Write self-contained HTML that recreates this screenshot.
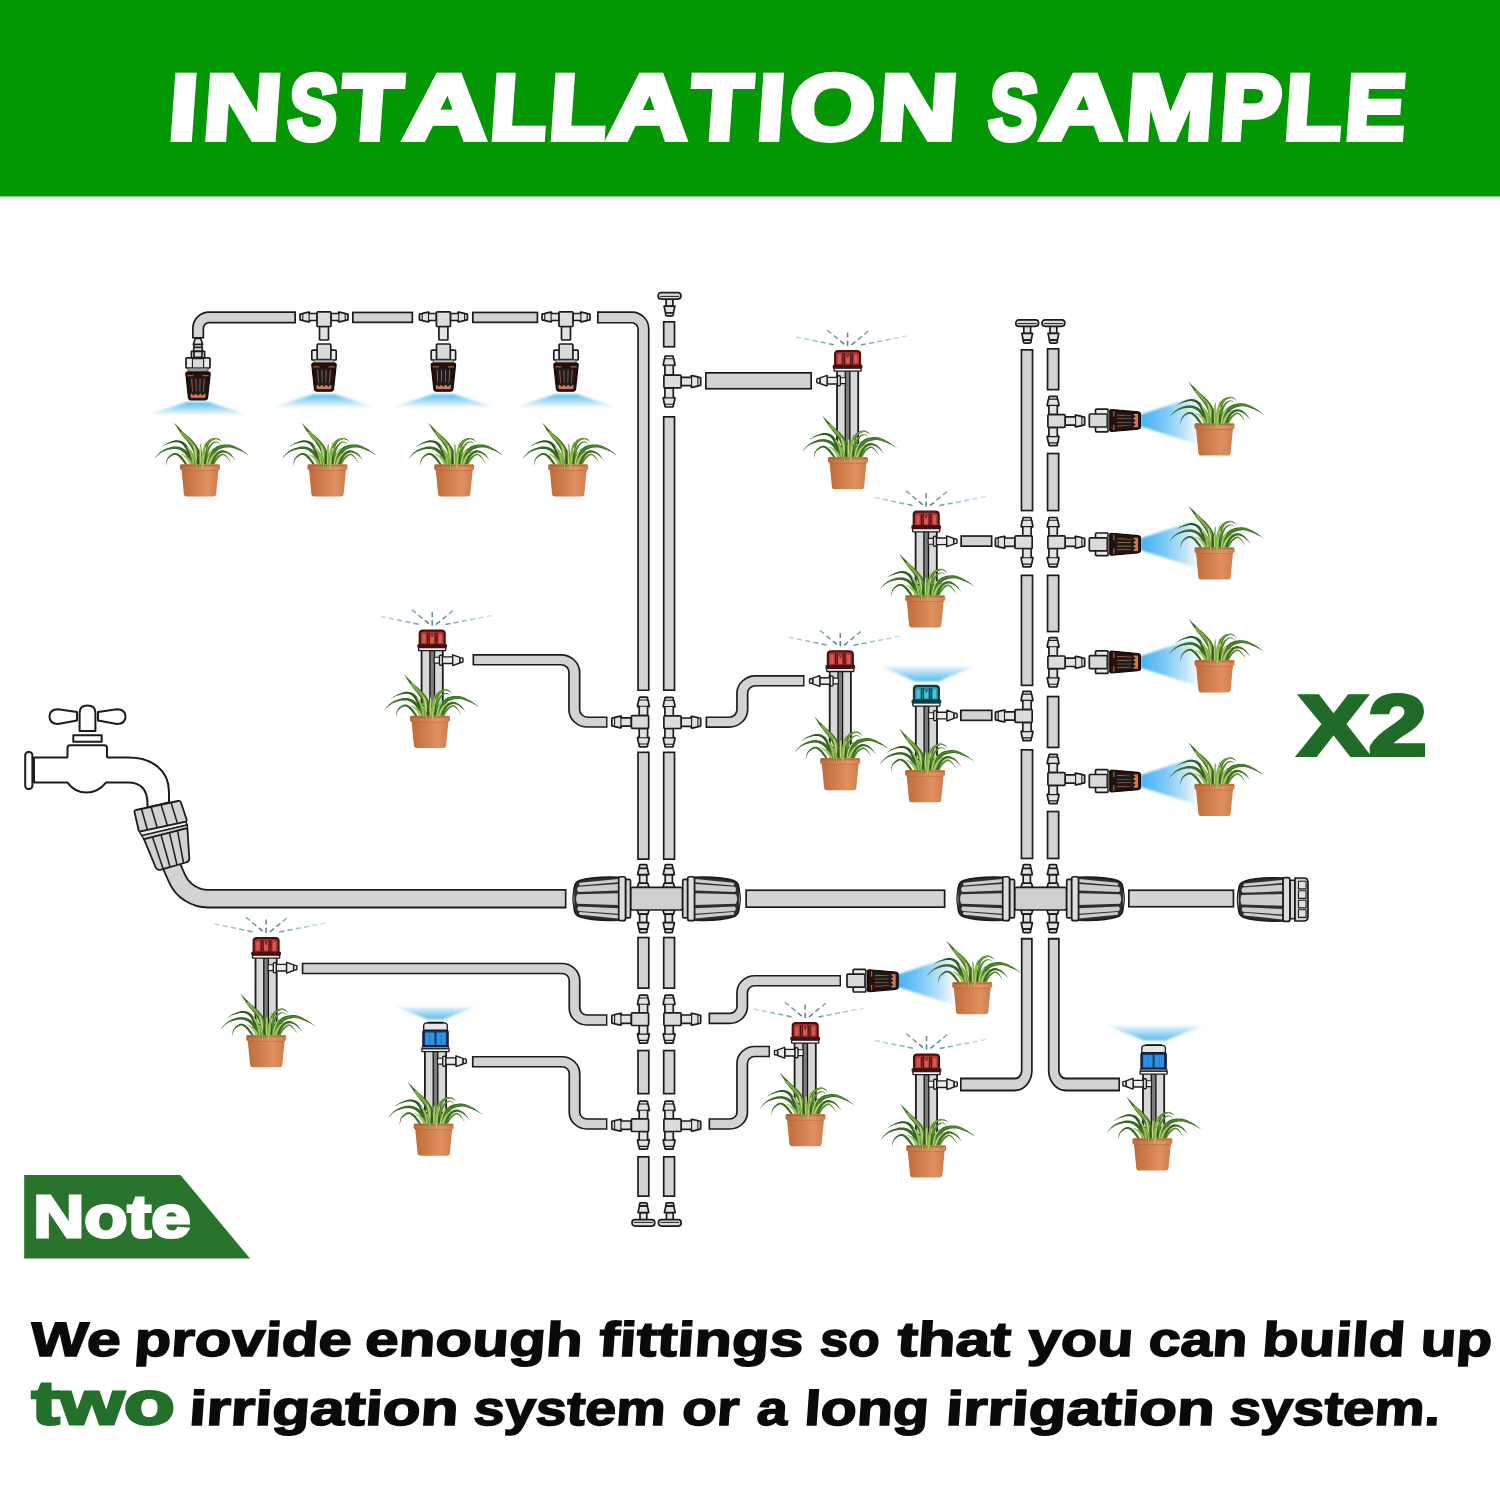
<!DOCTYPE html>
<html><head><meta charset="utf-8"><title>Installation Sample</title><style>html,body{margin:0;padding:0;background:#fff;}body{width:1500px;height:1500px;overflow:hidden;font-family:"Liberation Sans",sans-serif;}</style></head><body>
<svg width="1500" height="1500" viewBox="0 0 1500 1500" style="display:block">
<defs>
<linearGradient id="gDown" x1="0" y1="0" x2="0" y2="1"><stop offset="0" stop-color="#5cbcef"/><stop offset="0.4" stop-color="#9ad8f6"/><stop offset="0.8" stop-color="#dcf1fb"/><stop offset="1" stop-color="#ffffff" stop-opacity="0"/></linearGradient>
<linearGradient id="gUp" x1="0" y1="1" x2="0" y2="0"><stop offset="0" stop-color="#5cbcef"/><stop offset="0.4" stop-color="#95d5f5"/><stop offset="0.8" stop-color="#dcf1fb"/><stop offset="1" stop-color="#ffffff" stop-opacity="0"/></linearGradient>
<linearGradient id="gSide" x1="0" y1="0" x2="1" y2="0"><stop offset="0" stop-color="#45b0f3"/><stop offset="0.4" stop-color="#78c8f6"/><stop offset="0.8" stop-color="#c4e6fa"/><stop offset="1" stop-color="#e8f5fd" stop-opacity="0.6"/></linearGradient>
<radialGradient id="gDash" gradientUnits="userSpaceOnUse" cx="0" cy="-4" r="62"><stop offset="0.1" stop-color="#56808f"/><stop offset="0.45" stop-color="#8fbccd"/><stop offset="1" stop-color="#d3e9f2"/></radialGradient>
<linearGradient id="gPot" x1="0" y1="0" x2="1" y2="0"><stop offset="0" stop-color="#c06d3c"/><stop offset="0.3" stop-color="#cd7a48"/><stop offset="0.7" stop-color="#e0905f"/><stop offset="1" stop-color="#cf7c4b"/></linearGradient>
<linearGradient id="gRim" x1="0" y1="0" x2="1" y2="0"><stop offset="0" stop-color="#bb6a3b"/><stop offset="0.3" stop-color="#cf7d4b"/><stop offset="0.7" stop-color="#e39566"/><stop offset="1" stop-color="#d07f4e"/></linearGradient>
<filter id="b1" x="-10%" y="-20%" width="120%" height="140%"><feGaussianBlur stdDeviation="0.8"/></filter>
<filter id="b0" x="-10%" y="-20%" width="120%" height="140%"><feGaussianBlur stdDeviation="0.35"/></filter>
<filter id="bp" x="-5%" y="-5%" width="110%" height="110%"><feGaussianBlur stdDeviation="0.3"/></filter>
<g id="plant"><path d="M-6.9,0.7 L-7.1,-0.4 L-7.4,-2.0 L-7.7,-3.9 L-8.1,-6.0 L-8.5,-8.1 L-9.0,-10.1 L-9.6,-11.9 L-10.2,-13.5 L-10.9,-15.0 L-11.6,-16.4 L-12.4,-17.8 L-13.3,-19.0 L-14.2,-20.2 L-15.2,-21.2 L-16.3,-22.0 L-17.4,-22.7 L-18.5,-23.2 L-19.7,-23.6 L-20.9,-23.9 L-22.2,-24.1 L-23.5,-24.1 L-24.9,-24.0 L-26.3,-23.6 L-27.8,-23.2 L-29.3,-22.6 L-30.7,-22.1 L-32.0,-21.5 L-33.2,-20.9 L-34.3,-20.4 L-35.3,-19.7 L-36.3,-19.0 L-37.2,-18.4 L-38.0,-17.8 L-38.7,-17.3 L-39.2,-16.9 L-39.2,-16.9 L-38.6,-17.2 L-37.9,-17.6 L-37.1,-18.1 L-36.1,-18.6 L-35.0,-19.2 L-33.9,-19.7 L-32.8,-20.1 L-31.6,-20.5 L-30.3,-20.9 L-28.8,-21.3 L-27.4,-21.7 L-26.0,-21.9 L-24.7,-22.1 L-23.5,-22.1 L-22.4,-22.0 L-21.4,-21.8 L-20.4,-21.5 L-19.5,-21.1 L-18.6,-20.6 L-17.8,-20.0 L-17.0,-19.2 L-16.3,-18.4 L-15.6,-17.4 L-14.9,-16.3 L-14.2,-15.0 L-13.6,-13.7 L-13.0,-12.3 L-12.4,-10.9 L-11.9,-9.3 L-11.3,-7.4 L-10.8,-5.4 L-10.4,-3.4 L-9.9,-1.5 L-9.6,0.1 L-9.3,1.3Z" fill="#2d5a1e"/><path d="M-6.8,0.6 L-7.1,-0.3 L-7.5,-1.5 L-7.9,-2.9 L-8.4,-4.5 L-9.0,-6.2 L-9.7,-7.8 L-10.4,-9.2 L-11.3,-10.4 L-12.1,-11.6 L-13.1,-12.7 L-14.1,-13.8 L-15.2,-14.7 L-16.4,-15.6 L-17.6,-16.3 L-18.9,-16.8 L-20.2,-17.3 L-21.5,-17.6 L-22.9,-17.8 L-24.3,-17.9 L-25.8,-17.8 L-27.2,-17.7 L-28.8,-17.4 L-30.4,-16.9 L-32.1,-16.4 L-33.8,-15.7 L-35.4,-15.0 L-37.0,-14.2 L-38.4,-13.3 L-39.8,-12.3 L-41.1,-11.1 L-42.3,-9.8 L-43.4,-8.5 L-44.4,-7.3 L-45.2,-6.2 L-45.8,-5.5 L-45.8,-5.5 L-45.1,-6.1 L-44.1,-7.1 L-43.0,-8.1 L-41.8,-9.3 L-40.5,-10.4 L-39.1,-11.4 L-37.8,-12.3 L-36.4,-12.9 L-34.8,-13.5 L-33.2,-14.1 L-31.6,-14.5 L-29.9,-14.9 L-28.4,-15.2 L-27.0,-15.3 L-25.7,-15.4 L-24.4,-15.3 L-23.2,-15.2 L-22.1,-15.0 L-21.0,-14.6 L-20.0,-14.2 L-19.0,-13.7 L-18.0,-13.1 L-17.1,-12.4 L-16.2,-11.6 L-15.3,-10.7 L-14.5,-9.7 L-13.7,-8.7 L-13.0,-7.6 L-12.3,-6.5 L-11.6,-5.1 L-11.0,-3.6 L-10.4,-2.1 L-9.9,-0.7 L-9.5,0.5 L-9.2,1.4Z" fill="#3a6b23"/><path d="M-12.2,0.4 L-12.8,-0.4 L-13.6,-1.6 L-14.6,-3.1 L-15.7,-4.6 L-16.8,-6.1 L-17.9,-7.5 L-19.0,-8.5 L-20.0,-9.3 L-20.9,-10.0 L-21.8,-10.6 L-22.8,-11.0 L-23.8,-11.3 L-24.8,-11.3 L-25.9,-11.2 L-27.0,-10.9 L-28.1,-10.3 L-29.2,-9.5 L-30.2,-8.7 L-31.2,-7.7 L-32.0,-6.8 L-32.7,-5.8 L-33.2,-4.7 L-33.6,-3.5 L-33.8,-2.2 L-33.9,-1.0 L-34.0,0.2 L-34.0,1.1 L-34.1,1.8 L-34.1,1.8 L-33.9,1.1 L-33.7,0.2 L-33.5,-0.9 L-33.2,-2.1 L-32.9,-3.3 L-32.4,-4.3 L-31.9,-5.2 L-31.2,-6.0 L-30.3,-6.8 L-29.3,-7.6 L-28.3,-8.2 L-27.3,-8.8 L-26.3,-9.2 L-25.5,-9.4 L-24.8,-9.4 L-24.2,-9.3 L-23.5,-9.1 L-22.9,-8.7 L-22.2,-8.2 L-21.4,-7.6 L-20.6,-6.9 L-19.7,-5.9 L-18.6,-4.7 L-17.5,-3.3 L-16.4,-1.8 L-15.3,-0.4 L-14.4,0.7 L-13.8,1.6Z" fill="#3a6b23"/><path d="M5.2,1.1 L5.4,-0.3 L5.6,-2.4 L5.8,-4.7 L6.0,-7.3 L6.3,-9.8 L6.6,-12.0 L6.9,-13.9 L7.2,-15.5 L7.6,-16.9 L8.1,-18.2 L8.6,-19.4 L9.1,-20.4 L9.7,-21.4 L10.4,-22.2 L11.1,-22.9 L11.9,-23.5 L12.9,-24.0 L13.9,-24.5 L14.9,-24.8 L15.8,-25.0 L16.7,-25.0 L17.6,-24.9 L18.5,-24.6 L19.5,-24.1 L20.5,-23.5 L21.4,-22.8 L22.1,-22.3 L22.7,-22.0 L22.7,-22.0 L22.2,-22.4 L21.6,-23.1 L20.8,-23.9 L20.0,-24.7 L19.0,-25.4 L18.0,-26.0 L16.9,-26.4 L15.8,-26.5 L14.6,-26.4 L13.4,-26.3 L12.1,-25.9 L10.9,-25.5 L9.7,-24.8 L8.6,-24.0 L7.7,-23.1 L6.8,-22.0 L5.9,-20.8 L5.2,-19.5 L4.5,-18.0 L3.9,-16.4 L3.3,-14.7 L2.9,-12.6 L2.6,-10.2 L2.4,-7.5 L2.3,-4.9 L2.2,-2.5 L2.2,-0.5 L2.2,0.9Z" fill="#3a6b23"/><path d="M3.7,1.0 L3.8,-0.4 L3.9,-2.4 L4.0,-4.8 L4.2,-7.4 L4.4,-10.0 L4.7,-12.3 L5.1,-14.3 L5.5,-16.0 L6.1,-17.5 L6.6,-18.9 L7.3,-20.1 L7.9,-21.2 L8.7,-22.2 L9.5,-23.1 L10.4,-23.9 L11.4,-24.5 L12.5,-25.0 L13.6,-25.4 L14.7,-25.6 L15.8,-25.7 L16.8,-25.7 L17.8,-25.5" fill="none" stroke="#7dae3e" stroke-width="1.05" stroke-linecap="round"/><path d="M6.1,1.2 L6.3,-0.2 L6.7,-2.0 L7.0,-4.2 L7.5,-6.5 L7.9,-8.8 L8.3,-10.9 L8.7,-12.6 L9.1,-14.0 L9.6,-15.3 L10.2,-16.4 L10.7,-17.5 L11.3,-18.4 L11.9,-19.2 L12.5,-19.9 L13.1,-20.5 L13.7,-21.0 L14.4,-21.3 L15.0,-21.6 L15.7,-21.8 L16.3,-21.9 L16.9,-21.9 L17.5,-21.8 L18.2,-21.5 L18.9,-21.1 L19.6,-20.6 L20.3,-20.2 L20.8,-19.8 L21.2,-19.5 L21.2,-19.5 L20.9,-19.8 L20.4,-20.3 L19.8,-20.9 L19.2,-21.5 L18.5,-22.0 L17.8,-22.5 L17.1,-22.7 L16.3,-22.8 L15.5,-22.8 L14.7,-22.7 L13.9,-22.5 L13.1,-22.2 L12.3,-21.7 L11.5,-21.1 L10.7,-20.4 L9.9,-19.5 L9.1,-18.6 L8.4,-17.5 L7.6,-16.3 L6.9,-14.9 L6.3,-13.4 L5.8,-11.5 L5.2,-9.3 L4.8,-6.9 L4.5,-4.6 L4.3,-2.3 L4.1,-0.5 L3.9,0.8Z" fill="#4f8a2c"/><path d="M11.0,1.4 L11.3,0.3 L11.7,-1.1 L12.1,-2.8 L12.5,-4.5 L13.0,-6.3 L13.6,-7.8 L14.1,-9.1 L14.7,-10.2 L15.4,-11.2 L16.0,-12.1 L16.7,-12.9 L17.4,-13.6 L18.2,-14.2 L19.1,-14.8 L20.2,-15.3 L21.6,-15.8 L23.0,-16.2 L24.5,-16.5 L26.1,-16.8 L27.7,-16.9 L29.1,-16.9 L30.6,-16.7 L32.1,-16.4 L33.7,-16.0 L35.3,-15.4 L36.9,-14.8 L38.5,-14.2 L40.0,-13.6 L41.4,-13.0 L43.0,-12.2 L44.5,-11.4 L45.9,-10.6 L47.2,-9.9 L48.3,-9.2 L49.1,-8.8 L49.1,-8.8 L48.4,-9.4 L47.4,-10.2 L46.2,-11.1 L44.9,-12.1 L43.5,-13.1 L42.1,-14.1 L40.6,-15.0 L39.2,-15.8 L37.7,-16.6 L36.2,-17.4 L34.5,-18.2 L32.9,-18.8 L31.2,-19.4 L29.5,-19.7 L27.7,-19.9 L25.9,-19.9 L24.1,-19.8 L22.3,-19.6 L20.6,-19.3 L19.0,-18.8 L17.5,-18.2 L16.1,-17.5 L14.9,-16.6 L13.8,-15.6 L12.9,-14.5 L12.1,-13.3 L11.3,-12.1 L10.7,-10.7 L10.0,-9.1 L9.5,-7.3 L9.1,-5.4 L8.7,-3.5 L8.4,-1.8 L8.1,-0.4 L8.0,0.6Z" fill="#3a6b23"/><path d="M9.5,1.0 L9.7,-0.0 L10.0,-1.4 L10.4,-3.1 L10.8,-5.0 L11.3,-6.8 L11.8,-8.5 L12.4,-9.9 L13.0,-11.1 L13.7,-12.2 L14.5,-13.3 L15.3,-14.2 L16.2,-15.1 L17.2,-15.8 L18.3,-16.5 L19.6,-17.1 L21.1,-17.5 L22.7,-17.9 L24.3,-18.2 L26.0,-18.3 L27.7,-18.4 L29.3,-18.3 L30.9,-18.0 L32.5,-17.6 L34.1,-17.1 L35.7,-16.4 L37.3,-15.7 L38.8,-15.0" fill="none" stroke="#4f8a2c" stroke-width="1.32" stroke-linecap="round"/><path d="M12.8,1.4 L13.1,0.5 L13.6,-0.8 L14.1,-2.2 L14.7,-3.8 L15.3,-5.3 L15.9,-6.6 L16.6,-7.6 L17.2,-8.4 L18.0,-9.2 L18.8,-9.9 L19.6,-10.5 L20.5,-11.0 L21.4,-11.4 L22.2,-11.6 L23.0,-11.7 L23.9,-11.7 L24.9,-11.6 L25.8,-11.3 L26.9,-11.0 L27.9,-10.5 L28.9,-10.0 L29.9,-9.3 L31.0,-8.4 L32.2,-7.3 L33.3,-6.2 L34.4,-5.2 L35.2,-4.3 L35.9,-3.7 L35.9,-3.7 L35.4,-4.4 L34.7,-5.4 L33.8,-6.6 L32.8,-7.9 L31.8,-9.2 L30.8,-10.3 L29.7,-11.2 L28.7,-11.9 L27.6,-12.6 L26.5,-13.1 L25.4,-13.6 L24.2,-13.9 L23.0,-14.0 L21.8,-14.0 L20.6,-13.7 L19.5,-13.3 L18.3,-12.8 L17.2,-12.1 L16.1,-11.3 L15.1,-10.3 L14.2,-9.2 L13.4,-7.9 L12.7,-6.3 L12.1,-4.7 L11.6,-3.0 L11.2,-1.5 L10.9,-0.3 L10.6,0.6Z" fill="#3a6b23"/><path d="M13.7,1.4 L14.1,0.7 L14.6,-0.2 L15.1,-1.3 L15.8,-2.4 L16.4,-3.5 L17.1,-4.5 L17.8,-5.4 L18.4,-6.1 L19.2,-6.8 L20.0,-7.5 L20.7,-8.1 L21.5,-8.6 L22.2,-9.0 L22.8,-9.1 L23.3,-9.1 L23.8,-9.0 L24.3,-8.7 L24.9,-8.3 L25.5,-7.8 L26.1,-7.3 L26.7,-6.7 L27.4,-6.0 L28.1,-5.2 L28.8,-4.2 L29.5,-3.3 L30.2,-2.4 L30.7,-1.6 L31.1,-1.1 L31.1,-1.1 L30.8,-1.7 L30.4,-2.5 L29.9,-3.5 L29.3,-4.5 L28.7,-5.6 L28.1,-6.5 L27.5,-7.3 L26.9,-8.0 L26.3,-8.7 L25.7,-9.3 L25.1,-9.8 L24.4,-10.3 L23.5,-10.6 L22.6,-10.7 L21.7,-10.5 L20.7,-10.1 L19.8,-9.6 L18.8,-9.0 L17.9,-8.2 L17.0,-7.5 L16.2,-6.6 L15.5,-5.7 L14.8,-4.5 L14.1,-3.3 L13.5,-2.1 L13.0,-1.0 L12.6,-0.0 L12.3,0.6Z" fill="#4f8a2c"/><path d="M0.9,1.7 L0.8,0.3 L0.7,-1.6 L0.6,-3.9 L0.4,-6.4 L0.1,-9.0 L-0.3,-11.5 L-0.8,-13.7 L-1.6,-15.6 L-2.5,-17.3 L-3.5,-18.8 L-4.5,-20.2 L-5.5,-21.5 L-6.5,-22.7 L-7.6,-23.9 L-8.7,-25.1 L-9.8,-26.2 L-11.0,-27.3 L-12.1,-28.3 L-13.3,-29.3 L-14.5,-30.3 L-15.7,-31.4 L-17.1,-32.8 L-18.7,-34.4 L-20.5,-36.1 L-22.1,-37.7 L-23.7,-39.2 L-25.0,-40.5 L-26.0,-41.4 L-26.0,-41.4 L-25.3,-40.3 L-24.3,-38.7 L-23.1,-36.9 L-21.9,-34.9 L-20.5,-32.9 L-19.3,-31.0 L-18.1,-29.4 L-17.0,-27.9 L-16.0,-26.6 L-14.9,-25.4 L-14.0,-24.3 L-13.1,-23.2 L-12.2,-22.1 L-11.4,-20.9 L-10.6,-19.6 L-9.7,-18.4 L-8.9,-17.1 L-8.2,-15.9 L-7.6,-14.6 L-7.0,-13.3 L-6.6,-11.9 L-6.1,-10.2 L-5.6,-8.1 L-5.2,-5.7 L-4.8,-3.3 L-4.4,-1.0 L-4.1,0.9 L-3.9,2.3Z" fill="#3a6b23"/><path d="M-1.5,2.0 L-1.7,0.6 L-1.9,-1.3 L-2.1,-3.6 L-2.4,-6.0 L-2.7,-8.5 L-3.2,-10.8 L-3.7,-12.8 L-4.3,-14.5 L-5.0,-16.0 L-5.8,-17.4 L-6.7,-18.7 L-7.6,-19.9 L-8.6,-21.2 L-9.5,-22.4 L-10.5,-23.6 L-11.4,-24.7 L-12.5,-25.8 L-13.5,-26.8 L-14.6,-27.9 L-15.7,-29.1 L-16.9,-30.4 L-18.2,-31.9" fill="none" stroke="#7dae3e" stroke-width="2.51" stroke-linecap="round"/><path d="M-4.5,2.8 L-4.6,1.7 L-4.7,0.3 L-4.9,-1.4 L-5.1,-3.3 L-5.4,-5.2 L-5.9,-6.9 L-6.4,-8.4 L-6.9,-9.7 L-7.4,-10.9 L-7.9,-11.9 L-8.4,-12.9 L-9.0,-13.8 L-9.6,-14.6 L-10.2,-15.5 L-10.9,-16.3 L-11.7,-17.1 L-12.5,-17.9 L-13.2,-18.5 L-14.0,-19.1 L-14.6,-19.6 L-15.0,-20.0 L-15.0,-20.0 L-14.7,-19.5 L-14.3,-18.9 L-13.8,-18.1 L-13.2,-17.2 L-12.7,-16.3 L-12.2,-15.4 L-11.8,-14.5 L-11.4,-13.6 L-11.1,-12.7 L-10.7,-11.8 L-10.4,-10.9 L-10.1,-9.8 L-9.9,-8.7 L-9.6,-7.6 L-9.4,-6.2 L-9.2,-4.5 L-8.8,-2.7 L-8.4,-0.9 L-8.1,0.8 L-7.7,2.2 L-7.5,3.2Z" fill="#4f8a2c"/><path d="M-6.0,3.0 L-6.2,2.0 L-6.4,0.5 L-6.7,-1.2 L-7.0,-3.0 L-7.3,-4.8 L-7.6,-6.5 L-8.0,-8.0 L-8.4,-9.2 L-8.8,-10.3 L-9.2,-11.4 L-9.6,-12.3 L-10.0,-13.3 L-10.5,-14.1 L-11.0,-15.0 L-11.6,-15.9 L-12.2,-16.7" fill="none" stroke="#c3d58a" stroke-width="1.26" stroke-linecap="round"/><path d="M-1.3,2.9 L-1.3,1.7 L-1.3,0.2 L-1.4,-1.7 L-1.4,-3.7 L-1.6,-5.8 L-1.9,-7.6 L-2.2,-9.2 L-2.5,-10.5 L-2.8,-11.7 L-3.1,-12.7 L-3.4,-13.6 L-3.7,-14.5 L-4.0,-15.4 L-4.4,-16.3 L-4.9,-17.4 L-5.5,-18.5 L-6.0,-19.6 L-6.6,-20.6 L-7.2,-21.6 L-7.7,-22.4 L-8.0,-23.0 L-8.0,-23.0 L-7.9,-22.3 L-7.7,-21.4 L-7.5,-20.3 L-7.2,-19.2 L-7.0,-17.9 L-6.7,-16.8 L-6.6,-15.7 L-6.4,-14.7 L-6.3,-13.8 L-6.2,-12.9 L-6.1,-12.0 L-6.0,-11.1 L-5.9,-10.0 L-5.8,-8.8 L-5.8,-7.2 L-5.7,-5.4 L-5.5,-3.4 L-5.3,-1.4 L-5.0,0.4 L-4.8,2.0 L-4.7,3.1Z" fill="#7dae3e"/><path d="M-3.0,3.0 L-3.1,1.9 L-3.2,0.3 L-3.3,-1.6 L-3.5,-3.6 L-3.6,-5.6 L-3.8,-7.4 L-4.0,-9.0 L-4.2,-10.3 L-4.4,-11.4 L-4.6,-12.3 L-4.8,-13.3 L-5.0,-14.1 L-5.2,-15.0 L-5.5,-16.0 L-5.8,-17.1 L-6.2,-18.2" fill="none" stroke="#c3d58a" stroke-width="1.38" stroke-linecap="round"/><path d="M1.6,3.0 L1.7,2.0 L1.8,0.6 L2.0,-1.1 L2.1,-2.9 L2.2,-4.8 L2.1,-6.5 L2.1,-7.9 L2.0,-9.1 L1.9,-10.2 L1.9,-11.2 L1.8,-12.2 L1.8,-13.1 L1.7,-14.0 L1.6,-15.0 L1.5,-16.0 L1.4,-17.1 L1.2,-18.2 L1.1,-19.2 L0.9,-20.1 L0.8,-20.9 L0.7,-21.5 L0.7,-21.5 L0.6,-20.9 L0.4,-20.1 L0.3,-19.2 L0.1,-18.2 L-0.1,-17.1 L-0.2,-16.0 L-0.4,-15.0 L-0.6,-14.1 L-0.7,-13.2 L-0.9,-12.3 L-1.0,-11.4 L-1.2,-10.4 L-1.3,-9.3 L-1.5,-8.1 L-1.6,-6.6 L-1.8,-4.9 L-1.8,-3.0 L-1.8,-1.2 L-1.7,0.5 L-1.6,1.9 L-1.6,3.0Z" fill="#4f8a2c"/><path d="M0.0,3.0 L0.0,2.0 L0.1,0.5 L0.1,-1.2 L0.2,-3.0 L0.2,-4.8 L0.3,-6.5 L0.3,-8.0 L0.3,-9.2 L0.4,-10.3 L0.4,-11.3 L0.5,-12.2 L0.5,-13.2 L0.6,-14.1 L0.6,-15.0 L0.6,-16.0 L0.6,-17.1" fill="none" stroke="#c3d58a" stroke-width="1.32" stroke-linecap="round"/><path d="M4.6,3.1 L4.8,2.1 L5.0,0.7 L5.2,-1.0 L5.5,-2.9 L5.6,-4.7 L5.7,-6.4 L5.7,-7.8 L5.7,-8.9 L5.8,-9.8 L5.9,-10.6 L5.9,-11.4 L6.0,-12.2 L6.1,-12.9 L6.2,-13.8 L6.2,-14.7 L6.3,-15.7 L6.4,-16.8 L6.4,-17.8 L6.5,-18.7 L6.5,-19.4 L6.5,-20.0 L6.5,-20.0 L6.3,-19.5 L6.0,-18.8 L5.6,-17.9 L5.3,-17.0 L4.9,-16.0 L4.5,-15.1 L4.2,-14.2 L3.9,-13.4 L3.7,-12.7 L3.4,-12.0 L3.1,-11.2 L2.9,-10.4 L2.6,-9.4 L2.3,-8.2 L2.0,-6.8 L1.7,-5.1 L1.5,-3.2 L1.5,-1.4 L1.4,0.4 L1.4,1.8 L1.4,2.9Z" fill="#7dae3e"/><path d="M3.0,3.0 L3.1,2.0 L3.2,0.5 L3.3,-1.2 L3.5,-3.1 L3.7,-4.9 L3.8,-6.6 L4.0,-8.0 L4.2,-9.1 L4.3,-10.1 L4.5,-10.9 L4.7,-11.7 L4.8,-12.4 L5.0,-13.2 L5.2,-14.0 L5.4,-14.9 L5.6,-15.9" fill="none" stroke="#c3d58a" stroke-width="1.32" stroke-linecap="round"/><path d="M7.4,3.3 L7.7,2.5 L8.0,1.3 L8.4,-0.0 L8.7,-1.5 L9.1,-3.0 L9.3,-4.4 L9.6,-5.5 L9.8,-6.5 L10.0,-7.5 L10.2,-8.4 L10.5,-9.2 L10.7,-10.0 L11.0,-10.8 L11.3,-11.5 L11.6,-12.3 L12.1,-13.1 L12.5,-14.0 L13.0,-14.7 L13.4,-15.4 L13.7,-16.0 L14.0,-16.5 L14.0,-16.5 L13.6,-16.2 L13.1,-15.7 L12.4,-15.2 L11.7,-14.6 L11.0,-13.9 L10.3,-13.2 L9.7,-12.5 L9.2,-11.7 L8.7,-11.0 L8.2,-10.2 L7.7,-9.4 L7.3,-8.5 L6.9,-7.5 L6.4,-6.5 L6.0,-5.2 L5.6,-3.8 L5.3,-2.3 L5.0,-0.7 L4.8,0.7 L4.7,1.9 L4.6,2.7Z" fill="#4f8a2c"/><path d="M6.0,3.0 L6.2,2.2 L6.4,1.0 L6.7,-0.4 L7.0,-1.9 L7.3,-3.4 L7.7,-4.8 L8.0,-6.0 L8.3,-7.0 L8.6,-8.0 L9.0,-8.9 L9.3,-9.7 L9.7,-10.5 L10.1,-11.2 L10.5,-12.0 L11.0,-12.8 L11.5,-13.5" fill="none" stroke="#c3d58a" stroke-width="1.20" stroke-linecap="round"/><path d="M-6.9,2.6 L-7.1,1.9 L-7.4,1.0 L-7.8,-0.2 L-8.2,-1.4 L-8.7,-2.6 L-9.2,-3.7 L-9.9,-4.7 L-10.5,-5.5 L-11.1,-6.2 L-11.8,-6.8 L-12.5,-7.3 L-13.1,-7.8 L-13.8,-8.2 L-14.5,-8.7 L-15.3,-9.1 L-16.2,-9.4 L-17.1,-9.7 L-18.0,-10.0 L-18.8,-10.2 L-19.5,-10.4 L-20.0,-10.5 L-20.0,-10.5 L-19.6,-10.2 L-19.0,-9.8 L-18.3,-9.4 L-17.5,-8.9 L-16.8,-8.4 L-16.1,-7.9 L-15.5,-7.3 L-14.9,-6.8 L-14.4,-6.3 L-13.9,-5.8 L-13.4,-5.2 L-13.0,-4.6 L-12.5,-4.0 L-12.1,-3.3 L-11.7,-2.5 L-11.3,-1.4 L-10.8,-0.3 L-10.3,0.8 L-9.8,1.9 L-9.4,2.8 L-9.1,3.4Z" fill="#7dae3e"/><path d="M-8.0,3.0 L-8.3,2.3 L-8.6,1.4 L-9.0,0.3 L-9.5,-0.8 L-10.0,-2.0 L-10.5,-3.1 L-11.0,-4.0 L-11.5,-4.7 L-12.0,-5.4 L-12.6,-6.0 L-13.2,-6.5 L-13.8,-7.1 L-14.4,-7.5 L-15.0,-8.0 L-15.7,-8.5 L-16.5,-8.9" fill="none" stroke="#c3d58a" stroke-width="0.96" stroke-linecap="round"/><path d="M-0.6,2.9 L-0.6,2.1 L-0.6,0.9 L-0.6,-0.5 L-0.6,-2.0 L-0.7,-3.5 L-0.9,-4.9 L-1.0,-6.0 L-1.1,-7.0 L-1.2,-7.8 L-1.3,-8.5 L-1.4,-9.2 L-1.5,-9.8 L-1.6,-10.4 L-1.7,-11.0 L-1.8,-11.7 L-1.9,-12.3 L-2.0,-13.0 L-2.1,-13.6 L-2.2,-14.2 L-2.3,-14.6 L-2.4,-15.0 L-2.4,-15.0 L-2.4,-14.6 L-2.5,-14.2 L-2.5,-13.6 L-2.6,-13.0 L-2.6,-12.3 L-2.7,-11.6 L-2.7,-11.0 L-2.8,-10.4 L-2.8,-9.7 L-2.8,-9.1 L-2.9,-8.4 L-2.9,-7.7 L-2.9,-6.9 L-3.0,-6.0 L-3.0,-4.8 L-3.0,-3.4 L-3.0,-1.9 L-2.8,-0.4 L-2.7,1.0 L-2.5,2.2 L-2.4,3.1Z" fill="#2d5a1e"/><path d="M9.2,3.4 L9.5,2.7 L9.9,1.7 L10.4,0.4 L10.9,-0.8 L11.5,-2.1 L11.9,-3.4 L12.3,-4.4 L12.6,-5.3 L13.0,-6.1 L13.4,-6.8 L13.8,-7.5 L14.2,-8.2 L14.6,-8.8 L15.1,-9.4 L15.6,-10.0 L16.2,-10.6 L16.8,-11.2 L17.5,-11.8 L18.1,-12.3 L18.6,-12.7 L19.0,-13.0 L19.0,-13.0 L18.5,-12.8 L17.9,-12.6 L17.2,-12.3 L16.4,-12.0 L15.5,-11.6 L14.7,-11.1 L13.9,-10.6 L13.3,-10.0 L12.7,-9.4 L12.0,-8.8 L11.5,-8.1 L10.9,-7.3 L10.3,-6.5 L9.7,-5.6 L9.2,-4.5 L8.6,-3.3 L8.1,-1.9 L7.7,-0.5 L7.3,0.8 L7.1,1.8 L6.8,2.6Z" fill="#7dae3e"/><path d="M8.0,3.0 L8.3,2.3 L8.6,1.2 L9.0,-0.0 L9.5,-1.4 L10.0,-2.7 L10.5,-3.9 L11.0,-5.0 L11.5,-5.9 L11.9,-6.7 L12.4,-7.5 L12.9,-8.2 L13.4,-8.8 L13.9,-9.4 L14.5,-10.0 L15.1,-10.6 L15.8,-11.1" fill="none" stroke="#c3d58a" stroke-width="1.02" stroke-linecap="round"/><path d="M-3.4,2.8 L-3.6,1.8 L-3.8,0.5 L-4.1,-1.1 L-4.5,-2.8 L-4.9,-4.5 L-5.4,-6.0 L-5.9,-7.4 L-6.4,-8.5 L-6.9,-9.5 L-7.5,-10.4 L-8.0,-11.2 L-8.5,-12.0 L-9.0,-12.7 L-9.6,-13.3 L-10.1,-13.9 L-10.7,-14.4 L-11.3,-14.9 L-11.8,-15.2 L-12.3,-15.5 L-12.7,-15.8 L-13.0,-16.0 L-13.0,-16.0 L-12.8,-15.7 L-12.4,-15.4 L-12.1,-14.9 L-11.6,-14.5 L-11.2,-13.9 L-10.8,-13.3 L-10.4,-12.7 L-10.1,-12.0 L-9.7,-11.3 L-9.4,-10.5 L-9.0,-9.6 L-8.7,-8.7 L-8.4,-7.7 L-8.1,-6.6 L-7.8,-5.4 L-7.5,-3.8 L-7.1,-2.2 L-6.6,-0.5 L-6.2,1.0 L-5.8,2.3 L-5.6,3.2Z" fill="#93bb4c"/><path d="M3.1,3.1 L3.3,2.0 L3.5,0.4 L3.7,-1.5 L3.9,-3.5 L4.1,-5.5 L4.2,-7.3 L4.3,-8.9 L4.3,-10.1 L4.4,-11.2 L4.5,-12.2 L4.5,-13.0 L4.6,-13.9 L4.7,-14.8 L4.8,-15.8 L5.0,-17.0 L5.1,-18.3 L5.3,-19.7 L5.6,-21.0 L5.7,-22.2 L5.9,-23.2 L6.0,-24.0 L6.0,-24.0 L5.7,-23.3 L5.3,-22.3 L4.9,-21.2 L4.4,-19.9 L4.0,-18.6 L3.5,-17.3 L3.2,-16.2 L2.9,-15.2 L2.7,-14.2 L2.5,-13.3 L2.3,-12.4 L2.1,-11.5 L1.9,-10.4 L1.7,-9.1 L1.5,-7.6 L1.2,-5.7 L1.1,-3.7 L1.0,-1.7 L0.9,0.2 L0.9,1.8 L0.9,2.9Z" fill="#8ab545"/><path d="M5.6,3.0 L5.7,2.3 L5.8,1.3 L5.9,0.0 L6.0,-1.3 L6.1,-2.7 L6.1,-3.9 L6.1,-5.0 L6.0,-5.8 L6.0,-6.6 L6.0,-7.4 L6.0,-8.1 L5.9,-8.7 L5.9,-9.3 L5.9,-10.0 L5.8,-10.7 L5.7,-11.3 L5.7,-12.0 L5.6,-12.6 L5.5,-13.2 L5.4,-13.6 L5.4,-14.0 L5.4,-14.0 L5.4,-13.6 L5.3,-13.2 L5.2,-12.6 L5.2,-12.0 L5.1,-11.3 L5.0,-10.7 L4.9,-10.0 L4.9,-9.4 L4.8,-8.8 L4.7,-8.1 L4.6,-7.4 L4.5,-6.7 L4.4,-5.9 L4.3,-5.0 L4.2,-4.0 L4.1,-2.7 L4.0,-1.4 L4.0,-0.1 L4.0,1.2 L4.0,2.2 L4.0,3.0Z" fill="#2d5a1e"/><path d="M-18.8,2 L-16.1,30 Q-15.9,32.3 -13.5,32.3 H13.5 Q15.9,32.3 16.1,30 L18.8,2 Z" fill="url(#gPot)"/><rect x="-20" y="0" width="40" height="5.8" rx="1.4" fill="url(#gRim)"/><path d="M-18.6,1.3 H18.6" stroke="#9c5a35" stroke-width="1.8" opacity="0.55"/><path d="M-18.4,6.3 H18.4" stroke="#b5673a" stroke-width="0.9" opacity="0.6"/><path d="M-2.4,3.9 L-2.5,3.2 L-2.5,2.3 L-2.6,1.2 L-2.7,0.0 L-2.8,-1.1 L-3.0,-2.3 L-3.3,-3.2 L-3.5,-4.1 L-3.8,-4.9 L-4.1,-5.6 L-4.4,-6.3 L-4.7,-7.0 L-5.0,-7.6 L-5.4,-8.3 L-5.7,-8.9 L-6.2,-9.5 L-6.6,-10.2 L-7.0,-10.7 L-7.4,-11.3 L-7.8,-11.7 L-8.0,-12.0 L-8.0,-12.0 L-7.9,-11.6 L-7.7,-11.1 L-7.5,-10.5 L-7.3,-9.8 L-7.0,-9.1 L-6.8,-8.4 L-6.6,-7.7 L-6.5,-7.1 L-6.3,-6.4 L-6.2,-5.7 L-6.1,-5.0 L-5.9,-4.3 L-5.8,-3.6 L-5.7,-2.8 L-5.6,-1.8 L-5.5,-0.7 L-5.3,0.4 L-5.1,1.5 L-4.9,2.6 L-4.7,3.5 L-4.6,4.1Z" fill="#4f8a2c"/><path d="M-3.5,4.0 L-3.6,3.3 L-3.7,2.5 L-3.8,1.4 L-4.0,0.2 L-4.1,-0.9 L-4.3,-2.0 L-4.5,-3.0 L-4.7,-3.8 L-4.9,-4.6 L-5.1,-5.3 L-5.3,-6.0 L-5.5,-6.7 L-5.8,-7.4 L-6.0,-8.0 L-6.3,-8.7 L-6.6,-9.3" fill="none" stroke="#c3d58a" stroke-width="0.90" stroke-linecap="round"/><path d="M3.6,4.1 L3.7,3.4 L3.8,2.5 L3.9,1.5 L4.1,0.3 L4.2,-0.8 L4.2,-1.9 L4.2,-2.9 L4.3,-3.7 L4.3,-4.4 L4.3,-5.1 L4.4,-5.8 L4.4,-6.5 L4.5,-7.1 L4.5,-7.8 L4.6,-8.6 L4.7,-9.4 L4.8,-10.3 L4.8,-11.1 L4.9,-11.9 L5.0,-12.5 L5.0,-13.0 L5.0,-13.0 L4.8,-12.6 L4.6,-12.0 L4.3,-11.3 L3.9,-10.5 L3.6,-9.7 L3.3,-8.9 L3.1,-8.2 L2.8,-7.5 L2.6,-6.8 L2.4,-6.1 L2.3,-5.4 L2.1,-4.7 L1.9,-4.0 L1.8,-3.1 L1.6,-2.2 L1.5,-1.0 L1.4,0.1 L1.4,1.3 L1.4,2.4 L1.4,3.3 L1.4,3.9Z" fill="#7dae3e"/><path d="M2.5,4.0 L2.5,3.3 L2.6,2.5 L2.7,1.4 L2.7,0.2 L2.8,-0.9 L2.9,-2.0 L3.0,-3.0 L3.1,-3.8 L3.2,-4.6 L3.3,-5.3 L3.4,-6.0 L3.5,-6.6 L3.7,-7.3 L3.8,-8.0 L4.0,-8.8 L4.1,-9.6" fill="none" stroke="#c3d58a" stroke-width="0.90" stroke-linecap="round"/></g></defs>
<rect x="0" y="0" width="1500" height="1500" fill="#ffffff"/>
<rect x="0" y="0" width="1500" height="196.5" fill="#039803"/>
<g><text transform="translate(167.28,138.7) skewX(-4) scale(1.1041,1)" font-family="Liberation Sans, sans-serif" font-weight="bold" font-size="92" fill="#ffffff" stroke="#ffffff" stroke-width="6" stroke-linejoin="miter" stroke-miterlimit="2.5">I</text><text transform="translate(201.63,138.7) skewX(-4) scale(1.1717,1)" font-family="Liberation Sans, sans-serif" font-weight="bold" font-size="92" fill="#ffffff" stroke="#ffffff" stroke-width="6" stroke-linejoin="miter" stroke-miterlimit="2.5">N</text><text transform="translate(286.55,138.7) skewX(-4) scale(0.7985,1)" font-family="Liberation Sans, sans-serif" font-weight="bold" font-size="92" fill="#ffffff" stroke="#ffffff" stroke-width="6" stroke-linejoin="miter" stroke-miterlimit="2.5">S</text><text transform="translate(339.88,138.7) skewX(-4) scale(1.0598,1)" font-family="Liberation Sans, sans-serif" font-weight="bold" font-size="92" fill="#ffffff" stroke="#ffffff" stroke-width="6" stroke-linejoin="miter" stroke-miterlimit="2.5">T</text><text transform="translate(403.12,138.7) skewX(-4) scale(1.2473,1)" font-family="Liberation Sans, sans-serif" font-weight="bold" font-size="92" fill="#ffffff" stroke="#ffffff" stroke-width="6" stroke-linejoin="miter" stroke-miterlimit="2.5">A</text><text transform="translate(488.82,138.7) skewX(-4) scale(0.9969,1)" font-family="Liberation Sans, sans-serif" font-weight="bold" font-size="92" fill="#ffffff" stroke="#ffffff" stroke-width="6" stroke-linejoin="miter" stroke-miterlimit="2.5">L</text><text transform="translate(547.82,138.7) skewX(-4) scale(1.0113,1)" font-family="Liberation Sans, sans-serif" font-weight="bold" font-size="92" fill="#ffffff" stroke="#ffffff" stroke-width="6" stroke-linejoin="miter" stroke-miterlimit="2.5">L</text><text transform="translate(606.85,138.7) skewX(-4) scale(1.1995,1)" font-family="Liberation Sans, sans-serif" font-weight="bold" font-size="92" fill="#ffffff" stroke="#ffffff" stroke-width="6" stroke-linejoin="miter" stroke-miterlimit="2.5">A</text><text transform="translate(689.28,138.7) skewX(-4) scale(1.0658,1)" font-family="Liberation Sans, sans-serif" font-weight="bold" font-size="92" fill="#ffffff" stroke="#ffffff" stroke-width="6" stroke-linejoin="miter" stroke-miterlimit="2.5">T</text><text transform="translate(755.48,138.7) skewX(-4) scale(1.0672,1)" font-family="Liberation Sans, sans-serif" font-weight="bold" font-size="92" fill="#ffffff" stroke="#ffffff" stroke-width="6" stroke-linejoin="miter" stroke-miterlimit="2.5">I</text><text transform="translate(788.16,138.7) skewX(-4) scale(1.1828,1)" font-family="Liberation Sans, sans-serif" font-weight="bold" font-size="92" fill="#ffffff" stroke="#ffffff" stroke-width="6" stroke-linejoin="miter" stroke-miterlimit="2.5">O</text><text transform="translate(876.95,138.7) skewX(-4) scale(1.1796,1)" font-family="Liberation Sans, sans-serif" font-weight="bold" font-size="92" fill="#ffffff" stroke="#ffffff" stroke-width="6" stroke-linejoin="miter" stroke-miterlimit="2.5">N</text><text transform="translate(987.05,138.7) skewX(-4) scale(0.7945,1)" font-family="Liberation Sans, sans-serif" font-weight="bold" font-size="92" fill="#ffffff" stroke="#ffffff" stroke-width="6" stroke-linejoin="miter" stroke-miterlimit="2.5">S</text><text transform="translate(1039.60,138.7) skewX(-4) scale(1.2373,1)" font-family="Liberation Sans, sans-serif" font-weight="bold" font-size="92" fill="#ffffff" stroke="#ffffff" stroke-width="6" stroke-linejoin="miter" stroke-miterlimit="2.5">A</text><text transform="translate(1124.49,138.7) skewX(-4) scale(1.1422,1)" font-family="Liberation Sans, sans-serif" font-weight="bold" font-size="92" fill="#ffffff" stroke="#ffffff" stroke-width="6" stroke-linejoin="miter" stroke-miterlimit="2.5">M</text><text transform="translate(1218.84,138.7) skewX(-4) scale(0.9851,1)" font-family="Liberation Sans, sans-serif" font-weight="bold" font-size="92" fill="#ffffff" stroke="#ffffff" stroke-width="6" stroke-linejoin="miter" stroke-miterlimit="2.5">P</text><text transform="translate(1282.83,138.7) skewX(-4) scale(1.0200,1)" font-family="Liberation Sans, sans-serif" font-weight="bold" font-size="92" fill="#ffffff" stroke="#ffffff" stroke-width="6" stroke-linejoin="miter" stroke-miterlimit="2.5">L</text><text transform="translate(1343.59,138.7) skewX(-4) scale(0.9803,1)" font-family="Liberation Sans, sans-serif" font-weight="bold" font-size="92" fill="#ffffff" stroke="#ffffff" stroke-width="6" stroke-linejoin="miter" stroke-miterlimit="2.5">E</text></g>
<g><path d="M313,394.2 H335 L378,408.2 H270 Z" fill="url(#gDown)" filter="url(#b1)"/>
<path d="M432.4,394.2 H454.4 L497.4,408.2 H389.4 Z" fill="url(#gDown)" filter="url(#b1)"/>
<path d="M555,394.2 H577 L620,408.2 H512 Z" fill="url(#gDown)" filter="url(#b1)"/>
<path d="M186.8,401.9 H208.8 L251.8,415.9 H143.8 Z" fill="url(#gDown)" filter="url(#b1)"/>
<g transform="translate(847.60,350.00)" fill="none" stroke-width="1.55" stroke-dasharray="5.2 3.2" stroke-linecap="butt" filter="url(#b0)"><path d="M-13.7,-5.2 L-55,-13.8" stroke="url(#gDash)"/><path d="M13.2,-5 L62,-14.5" stroke="url(#gDash)"/><path d="M-3.4,-5.8 L-21,-20.5" stroke="url(#gDash)"/><path d="M0,-4 L0,-19" stroke="url(#gDash)"/><path d="M3.8,-5 L22,-20" stroke="url(#gDash)"/></g>
<g transform="translate(432.20,629.50)" fill="none" stroke-width="1.55" stroke-dasharray="5.2 3.2" stroke-linecap="butt" filter="url(#b0)"><path d="M-13.7,-5.2 L-55,-13.8" stroke="url(#gDash)"/><path d="M13.2,-5 L62,-14.5" stroke="url(#gDash)"/><path d="M-3.4,-5.8 L-21,-20.5" stroke="url(#gDash)"/><path d="M0,-4 L0,-19" stroke="url(#gDash)"/><path d="M3.8,-5 L22,-20" stroke="url(#gDash)"/></g>
<g transform="translate(840.30,650.30)" fill="none" stroke-width="1.55" stroke-dasharray="5.2 3.2" stroke-linecap="butt" filter="url(#b0)"><path d="M-13.7,-5.2 L-55,-13.8" stroke="url(#gDash)"/><path d="M13.2,-5 L62,-14.5" stroke="url(#gDash)"/><path d="M-3.4,-5.8 L-21,-20.5" stroke="url(#gDash)"/><path d="M0,-4 L0,-19" stroke="url(#gDash)"/><path d="M3.8,-5 L22,-20" stroke="url(#gDash)"/></g>
<path d="M915,681.5 Q903.15,675.55 874,664.5 H980 Q950.85,675.55 939,681.5 Z" fill="url(#gUp)" filter="url(#b1)"/>
<g transform="translate(926.20,510.60)" fill="none" stroke-width="1.55" stroke-dasharray="5.2 3.2" stroke-linecap="butt" filter="url(#b0)"><path d="M-13.7,-5.2 L-55,-13.8" stroke="url(#gDash)"/><path d="M13.2,-5 L62,-14.5" stroke="url(#gDash)"/><path d="M-3.4,-5.8 L-21,-20.5" stroke="url(#gDash)"/><path d="M0,-4 L0,-19" stroke="url(#gDash)"/><path d="M3.8,-5 L22,-20" stroke="url(#gDash)"/></g>
<path d="M1141,414.5 L1198,395.5 V444.5 L1141,426.5 Z" fill="url(#gSide)" filter="url(#b1)"/>
<path d="M1141,538.3 L1198,519.3 V568.3 L1141,550.3 Z" fill="url(#gSide)" filter="url(#b1)"/>
<path d="M1141,656.1 L1198,637.1 V686.1 L1141,668.1 Z" fill="url(#gSide)" filter="url(#b1)"/>
<path d="M1141,775 L1198,756.0 V805.0 L1141,787 Z" fill="url(#gSide)" filter="url(#b1)"/>
<g transform="translate(266.10,937.00)" fill="none" stroke-width="1.55" stroke-dasharray="5.2 3.2" stroke-linecap="butt" filter="url(#b0)"><path d="M-13.7,-5.2 L-55,-13.8" stroke="url(#gDash)"/><path d="M13.2,-5 L62,-14.5" stroke="url(#gDash)"/><path d="M-3.4,-5.8 L-21,-20.5" stroke="url(#gDash)"/><path d="M0,-4 L0,-19" stroke="url(#gDash)"/><path d="M3.8,-5 L22,-20" stroke="url(#gDash)"/></g>
<path d="M427.5,1019.5 Q415.25,1014.425 390.5,1005.0 H480.5 Q455.75,1014.425 443.5,1019.5 Z" fill="url(#gUp)" filter="url(#b1)"/>
<path d="M1144,1040.5 Q1130.7,1034.725 1101,1024.0 H1209 Q1179.3,1034.725 1166,1040.5 Z" fill="url(#gUp)" filter="url(#b1)"/>
<g transform="translate(926.50,1053.50)" fill="none" stroke-width="1.55" stroke-dasharray="5.2 3.2" stroke-linecap="butt" filter="url(#b0)"><path d="M-13.7,-5.2 L-55,-13.8" stroke="url(#gDash)"/><path d="M13.2,-5 L62,-14.5" stroke="url(#gDash)"/><path d="M-3.4,-5.8 L-21,-20.5" stroke="url(#gDash)"/><path d="M0,-4 L0,-19" stroke="url(#gDash)"/><path d="M3.8,-5 L22,-20" stroke="url(#gDash)"/></g>
<g transform="translate(805.20,1022.00)" fill="none" stroke-width="1.55" stroke-dasharray="5.2 3.2" stroke-linecap="butt" filter="url(#b0)"><path d="M-13.7,-5.2 L-55,-13.8" stroke="url(#gDash)"/><path d="M13.2,-5 L62,-14.5" stroke="url(#gDash)"/><path d="M-3.4,-5.8 L-21,-20.5" stroke="url(#gDash)"/><path d="M0,-4 L0,-19" stroke="url(#gDash)"/><path d="M3.8,-5 L22,-20" stroke="url(#gDash)"/></g>
<path d="M897,974.7 L954,955.7 V1004.7 L897,986.7 Z" fill="url(#gSide)" filter="url(#b1)"/></g>
<g><g fill="none" stroke-linejoin="round"><path d="M296.00,317.40 L209.10,317.40 A11.00,11.00 0 0 0 198.10,328.40 L198.10,338.50" stroke="#1c1c1c" stroke-width="12.2"/><path d="M296.00,317.40 L209.10,317.40 A11.00,11.00 0 0 0 198.10,328.40 L198.10,338.50" stroke="#d3d3d3" stroke-width="8.80" stroke-dasharray="0 1.7 110.88 1.7"/></g>
<rect x="352.85" y="312.45" width="59.50" height="9.90" fill="#d3d3d3" stroke="#1c1c1c" stroke-width="1.7"/>
<rect x="472.85" y="312.45" width="64.60" height="9.90" fill="#d3d3d3" stroke="#1c1c1c" stroke-width="1.7"/>
<g fill="none" stroke-linejoin="round"><path d="M597.00,317.40 L631.90,317.40 A11.50,11.50 0 0 1 643.40,328.90 L643.40,691.00" stroke="#1c1c1c" stroke-width="12.4"/><path d="M597.00,317.40 L631.90,317.40 A11.50,11.50 0 0 1 643.40,328.90 L643.40,691.00" stroke="#d3d3d3" stroke-width="9.00" stroke-dasharray="0 1.7 411.66 1.7"/></g>
<rect x="663.70" y="321.85" width="10.80" height="24.90" fill="#d3d3d3" stroke="#1c1c1c" stroke-width="1.7"/>
<rect x="663.70" y="416.85" width="10.80" height="273.30" fill="#d3d3d3" stroke="#1c1c1c" stroke-width="1.7"/>
<rect x="705.85" y="372.85" width="105.30" height="15.90" fill="#d3d3d3" stroke="#1c1c1c" stroke-width="1.7"/>
<rect x="638.00" y="752.35" width="10.80" height="106.80" fill="#d3d3d3" stroke="#1c1c1c" stroke-width="1.7"/>
<rect x="663.70" y="752.35" width="10.80" height="106.80" fill="#d3d3d3" stroke="#1c1c1c" stroke-width="1.7"/>
<rect x="638.00" y="937.55" width="10.80" height="50.60" fill="#d3d3d3" stroke="#1c1c1c" stroke-width="1.7"/>
<rect x="663.70" y="937.55" width="10.80" height="50.60" fill="#d3d3d3" stroke="#1c1c1c" stroke-width="1.7"/>
<rect x="638.00" y="1050.55" width="10.80" height="43.10" fill="#d3d3d3" stroke="#1c1c1c" stroke-width="1.7"/>
<rect x="663.70" y="1050.55" width="10.80" height="43.10" fill="#d3d3d3" stroke="#1c1c1c" stroke-width="1.7"/>
<rect x="638.00" y="1156.85" width="10.80" height="39.30" fill="#d3d3d3" stroke="#1c1c1c" stroke-width="1.7"/>
<rect x="663.70" y="1156.85" width="10.80" height="39.30" fill="#d3d3d3" stroke="#1c1c1c" stroke-width="1.7"/>
<g transform="scale(1,0.92)" fill="none" stroke-linejoin="round"><path d="M472.50,717.17 L560.80,717.17 A13.50,13.50 0 0 1 574.30,730.67 L574.30,771.39 A13.50,13.50 0 0 0 587.80,784.89 L607.50,784.89" stroke="#1c1c1c" stroke-width="12.4"/><path d="M472.50,717.17 L560.80,717.17 A13.50,13.50 0 0 1 574.30,730.67 L574.30,771.39 A13.50,13.50 0 0 0 587.80,784.89 L607.50,784.89" stroke="#d3d3d3" stroke-width="9.00" stroke-dasharray="0 1.7 187.73 1.7"/></g>
<g transform="scale(1,0.92)" fill="none" stroke-linejoin="round"><path d="M705.50,785.00 L728.80,785.00 A13.50,13.50 0 0 0 742.30,771.50 L742.30,753.50 A13.50,13.50 0 0 1 755.80,740.00 L804.50,740.00" stroke="#1c1c1c" stroke-width="12.4"/><path d="M705.50,785.00 L728.80,785.00 A13.50,13.50 0 0 0 742.30,771.50 L742.30,753.50 A13.50,13.50 0 0 1 755.80,740.00 L804.50,740.00" stroke="#d3d3d3" stroke-width="9.00" stroke-dasharray="0 1.7 129.01 1.7"/></g>
<rect x="960.85" y="710.35" width="30.90" height="10.00" fill="#d3d3d3" stroke="#1c1c1c" stroke-width="1.7"/>
<rect x="961.15" y="536.05" width="30.50" height="10.10" fill="#d3d3d3" stroke="#1c1c1c" stroke-width="1.7"/>
<rect x="1021.45" y="349.85" width="11.10" height="160.70" fill="#d3d3d3" stroke="#1c1c1c" stroke-width="1.7"/>
<rect x="1047.55" y="348.85" width="11.10" height="40.80" fill="#d3d3d3" stroke="#1c1c1c" stroke-width="1.7"/>
<rect x="1047.55" y="453.55" width="11.10" height="57.00" fill="#d3d3d3" stroke="#1c1c1c" stroke-width="1.7"/>
<rect x="1021.45" y="575.35" width="11.10" height="110.00" fill="#d3d3d3" stroke="#1c1c1c" stroke-width="1.7"/>
<rect x="1047.55" y="575.35" width="11.10" height="56.20" fill="#d3d3d3" stroke="#1c1c1c" stroke-width="1.7"/>
<rect x="1047.55" y="696.55" width="11.10" height="50.90" fill="#d3d3d3" stroke="#1c1c1c" stroke-width="1.7"/>
<rect x="1021.45" y="749.85" width="11.10" height="108.60" fill="#d3d3d3" stroke="#1c1c1c" stroke-width="1.7"/>
<rect x="1047.55" y="811.55" width="11.10" height="46.90" fill="#d3d3d3" stroke="#1c1c1c" stroke-width="1.7"/>
<g fill="none" stroke-linejoin="round"><path d="M168.00,858.00 L177.05,878.45 A34.00,34.00 0 0 0 208.14,898.70 L566.50,898.70" stroke="#1c1c1c" stroke-width="19.4"/><path d="M168.00,858.00 L177.05,878.45 A34.00,34.00 0 0 0 208.14,898.70 L566.50,898.70" stroke="#d3d3d3" stroke-width="15.80" stroke-dasharray="0 1.8 416.37 1.8"/></g>
<rect x="746.15" y="890.25" width="198.50" height="16.90" fill="#d3d3d3" stroke="#1c1c1c" stroke-width="1.7"/>
<rect x="1128.85" y="890.25" width="104.60" height="16.50" fill="#d3d3d3" stroke="#1c1c1c" stroke-width="1.7"/>
<g transform="scale(1,1.16)" fill="none" stroke-linejoin="round"><path d="M1026.80,808.36 L1026.80,922.91 A12.00,12.00 0 0 1 1014.80,934.91 L960.00,934.91" stroke="#1c1c1c" stroke-width="11.9"/><path d="M1026.80,808.36 L1026.80,922.91 A12.00,12.00 0 0 1 1014.80,934.91 L960.00,934.91" stroke="#d3d3d3" stroke-width="8.50" stroke-dasharray="0 1.7 184.80 1.7"/></g>
<g transform="scale(1,1.16)" fill="none" stroke-linejoin="round"><path d="M1053.80,808.36 L1053.80,922.91 A12.00,12.00 0 0 0 1065.80,934.91 L1120.00,934.91" stroke="#1c1c1c" stroke-width="11.9"/><path d="M1053.80,808.36 L1053.80,922.91 A12.00,12.00 0 0 0 1065.80,934.91 L1120.00,934.91" stroke="#d3d3d3" stroke-width="8.50" stroke-dasharray="0 1.7 184.20 1.7"/></g>
<g transform="scale(1,0.95)" fill="none" stroke-linejoin="round"><path d="M301.70,1019.47 L562.00,1019.47 A12.50,12.50 0 0 1 574.50,1031.97 L574.50,1061.18 A12.50,12.50 0 0 0 587.00,1073.68 L607.40,1073.68" stroke="#1c1c1c" stroke-width="12.2"/><path d="M301.70,1019.47 L562.00,1019.47 A12.50,12.50 0 0 1 574.50,1031.97 L574.50,1061.18 A12.50,12.50 0 0 0 587.00,1073.68 L607.40,1073.68" stroke="#d3d3d3" stroke-width="8.80" stroke-dasharray="0 1.7 345.78 1.7"/></g>
<g transform="scale(1,0.95)" fill="none" stroke-linejoin="round"><path d="M471.90,1117.68 L562.00,1117.68 A12.50,12.50 0 0 1 574.50,1130.18 L574.50,1170.66 A12.50,12.50 0 0 0 587.00,1183.16 L607.40,1183.16" stroke="#1c1c1c" stroke-width="12.2"/><path d="M471.90,1117.68 L562.00,1117.68 A12.50,12.50 0 0 1 574.50,1130.18 L574.50,1170.66 A12.50,12.50 0 0 0 587.00,1183.16 L607.40,1183.16" stroke="#d3d3d3" stroke-width="8.80" stroke-dasharray="0 1.7 186.84 1.7"/></g>
<g transform="scale(1,0.95)" fill="none" stroke-linejoin="round"><path d="M708.50,1183.16 L729.70,1183.16 A12.50,12.50 0 0 0 742.20,1170.66 L742.20,1119.34 A12.50,12.50 0 0 1 754.70,1106.84 L770.00,1106.84" stroke="#1c1c1c" stroke-width="12.2"/><path d="M708.50,1183.16 L729.70,1183.16 A12.50,12.50 0 0 0 742.20,1170.66 L742.20,1119.34 A12.50,12.50 0 0 1 754.70,1106.84 L770.00,1106.84" stroke="#d3d3d3" stroke-width="8.80" stroke-dasharray="0 1.7 123.69 1.7"/></g>
<g transform="scale(1,0.95)" fill="none" stroke-linejoin="round"><path d="M708.50,1072.00 L729.70,1072.00 A12.50,12.50 0 0 0 742.20,1059.50 L742.20,1044.92 A12.50,12.50 0 0 1 754.70,1032.42 L841.00,1032.42" stroke="#1c1c1c" stroke-width="12.2"/><path d="M708.50,1072.00 L729.70,1072.00 A12.50,12.50 0 0 0 742.20,1059.50 L742.20,1044.92 A12.50,12.50 0 0 1 754.70,1032.42 L841.00,1032.42" stroke="#d3d3d3" stroke-width="8.80" stroke-dasharray="0 1.7 157.95 1.7"/></g></g>
<g fill="#fff" stroke="#1c1c1c" stroke-width="2" stroke-linejoin="round" stroke-linecap="round"><path d="M77,712 L58,709.3 Q49.5,709.5 49.5,716.6 Q49.5,724 58,724 L77,720.5 Z"/><path d="M98,712 L117,709.3 Q125.5,709.5 125.5,716.6 Q125.5,724 117,724 L98,720.5 Z"/><path d="M79.6,731 V713 Q79.6,705.6 87.5,705.6 Q95.4,705.6 95.4,713 V731 Z"/><rect x="73.3" y="735.3" width="28.4" height="6.4"/><path d="M34,757.6 H66 Q67.5,757.6 67.5,756 V748 Q67.5,745.2 70,745.2 H104.5 Q107,745.2 107,748 V756 Q107,757.6 108.5,757.6 H128 C152,757.6 169,770 169,792 V802.5 L147.5,807.5 V804 C147.5,790 141,782.6 128,782.6 H106 C100,790 93,792.6 86.5,792.6 C80,792.6 73,790 67.5,782.6 H34 Z"/><rect x="25.2" y="752" width="7.2" height="37" rx="3.2"/></g><g stroke="#1c1c1c" stroke-width="1.8" stroke-linejoin="round" fill="#d2d2d2"><path d="M134.5,812 Q134,810.5 136,810 L178,801 Q180.5,800.6 181,802.5 L186.6,819.5 Q187,821.5 185.2,822 L140.8,831.5 Q139,832 138.6,830 Z"/><path d="M139.6,831.8 L186,821.8 L187.2,825 L141.6,835.6 Z" fill="#ececec" stroke-width="1.4"/><path d="M141.8,835.6 L187.3,825 L187.6,828 L144,839.4 Z" fill="#d8d8d8" stroke-width="1.4"/><path d="M144,839.2 L187.4,828.2 L189.3,858 Q189.5,861.5 186,862.5 L161,869.6 Q157,870.6 155.5,867 Z"/><path d="M141.5,809 L147.5,830" fill="none" stroke-width="1.5"/><path d="M151,806.8 L157.3,828" fill="none" stroke-width="1.5"/><path d="M161,804.6 L167.5,825.8" fill="none" stroke-width="1.5"/><path d="M171,802.5 L177.5,823.6" fill="none" stroke-width="1.5"/><path d="M152.5,837 L163,868.6" fill="none" stroke-width="1.5"/><path d="M161,835 L170,866.8" fill="none" stroke-width="1.5"/><path d="M169.5,832.8 L177,865" fill="none" stroke-width="1.5"/><path d="M177.5,830.6 L183.5,863" fill="none" stroke-width="1.5"/></g>
<g><g transform="translate(324.00,317.00) rotate(0) scale(1.0,1.0)" fill="#e3e3e3" stroke="#1c1c1c" stroke-width="1.7" stroke-linejoin="round"><g transform="translate(-7.0,0)"><path d="M0.00,-3.50 L-7.50,-3.50 L-7.50,-4.60 L-8.30,-4.90 L-14.00,-3.70 L-14.40,-3.20 L-16.40,-3.20 L-17.00,-2.40 L-17.00,2.40 L-16.40,3.20 L-14.40,3.20 L-14.00,3.70 L-8.30,4.90 L-7.50,4.60 L-7.50,3.50 L0.00,3.50Z"/><path d="M-7.90,-4.50 V4.50 M-14.20,-3.40 V3.40" fill="none" stroke-width="1.1"/></g><g transform="translate(7.0,0) scale(-1,1)"><path d="M0.00,-3.50 L-7.50,-3.50 L-7.50,-4.60 L-8.30,-4.90 L-14.00,-3.70 L-14.40,-3.20 L-16.40,-3.20 L-17.00,-2.40 L-17.00,2.40 L-16.40,3.20 L-14.40,3.20 L-14.00,3.70 L-8.30,4.90 L-7.50,4.60 L-7.50,3.50 L0.00,3.50Z"/><path d="M-7.90,-4.50 V4.50 M-14.20,-3.40 V3.40" fill="none" stroke-width="1.1"/></g><rect x="-4.5" y="9.5" width="9" height="13.5" rx="0.8"/><rect x="-7.0" y="-5.2" width="14.0" height="14.7" rx="1" fill="#dcdcdc"/></g>
<g transform="translate(324.00,343.40)" stroke="#1c1c1c" stroke-width="1.7" stroke-linejoin="round"><rect x="-12.2" y="6.8" width="24.4" height="9.8" rx="1" fill="#ececec"/><rect x="-6.9" y="0.6" width="13.8" height="15.6" rx="1" fill="#dadada"/><rect x="-10" y="16.6" width="20" height="3.2" fill="#bdbdbd" stroke="#444" stroke-width="0.9"/><g transform="translate(0,19.8)"><path d="M-12.2,1.5 Q-12.2,0 -10.5,0 H10.5 Q12.2,0 12.2,1.5 L9.6,25.5 Q9.3,28 7,28 H-7 Q-9.3,28 -9.6,25.5 Z" fill="#2a0e08" stroke="#120503" stroke-width="1.2"/><path d="M-7.55,6 L-5.05,6 L-4.318,22.5 L-6.518000000000001,22.5 Z" fill="#bd7762"/><path d="M-3.35,6 L-0.8500000000000001,6 L-0.706,22.5 L-2.906,22.5 Z" fill="#bd7762"/><path d="M0.8500000000000001,6 L3.35,6 L2.906,22.5 L0.706,22.5 Z" fill="#bd7762"/><path d="M5.05,6 L7.55,6 L6.518000000000001,22.5 L4.318,22.5 Z" fill="#bd7762"/><path d="M-8.4,22.3 L-6.5,20 L-4.4,22.6 L-2.2,20 L0,22.6 L2.2,20 L4.4,22.6 L6.5,20 L8.4,22.3 L8,25.6 Q7.8,26.6 6.6,26.6 H-6.6 Q-7.8,26.6 -8,25.6 Z" fill="#d9794c"/><path d="M-10.6,3.6 H-4.5 M4.5,3.6 H10.6" stroke="#9a6253" stroke-width="1.2" fill="none"/></g></g>
<g transform="translate(443.40,317.00) rotate(0) scale(1.0,1.0)" fill="#e3e3e3" stroke="#1c1c1c" stroke-width="1.7" stroke-linejoin="round"><g transform="translate(-7.0,0)"><path d="M0.00,-3.50 L-7.50,-3.50 L-7.50,-4.60 L-8.30,-4.90 L-14.00,-3.70 L-14.40,-3.20 L-16.40,-3.20 L-17.00,-2.40 L-17.00,2.40 L-16.40,3.20 L-14.40,3.20 L-14.00,3.70 L-8.30,4.90 L-7.50,4.60 L-7.50,3.50 L0.00,3.50Z"/><path d="M-7.90,-4.50 V4.50 M-14.20,-3.40 V3.40" fill="none" stroke-width="1.1"/></g><g transform="translate(7.0,0) scale(-1,1)"><path d="M0.00,-3.50 L-7.50,-3.50 L-7.50,-4.60 L-8.30,-4.90 L-14.00,-3.70 L-14.40,-3.20 L-16.40,-3.20 L-17.00,-2.40 L-17.00,2.40 L-16.40,3.20 L-14.40,3.20 L-14.00,3.70 L-8.30,4.90 L-7.50,4.60 L-7.50,3.50 L0.00,3.50Z"/><path d="M-7.90,-4.50 V4.50 M-14.20,-3.40 V3.40" fill="none" stroke-width="1.1"/></g><rect x="-4.5" y="9.5" width="9" height="13.5" rx="0.8"/><rect x="-7.0" y="-5.2" width="14.0" height="14.7" rx="1" fill="#dcdcdc"/></g>
<g transform="translate(443.40,343.40)" stroke="#1c1c1c" stroke-width="1.7" stroke-linejoin="round"><rect x="-12.2" y="6.8" width="24.4" height="9.8" rx="1" fill="#ececec"/><rect x="-6.9" y="0.6" width="13.8" height="15.6" rx="1" fill="#dadada"/><rect x="-10" y="16.6" width="20" height="3.2" fill="#bdbdbd" stroke="#444" stroke-width="0.9"/><g transform="translate(0,19.8)"><path d="M-12.2,1.5 Q-12.2,0 -10.5,0 H10.5 Q12.2,0 12.2,1.5 L9.6,25.5 Q9.3,28 7,28 H-7 Q-9.3,28 -9.6,25.5 Z" fill="#2a0e08" stroke="#120503" stroke-width="1.2"/><path d="M-7.55,6 L-5.05,6 L-4.318,22.5 L-6.518000000000001,22.5 Z" fill="#bd7762"/><path d="M-3.35,6 L-0.8500000000000001,6 L-0.706,22.5 L-2.906,22.5 Z" fill="#bd7762"/><path d="M0.8500000000000001,6 L3.35,6 L2.906,22.5 L0.706,22.5 Z" fill="#bd7762"/><path d="M5.05,6 L7.55,6 L6.518000000000001,22.5 L4.318,22.5 Z" fill="#bd7762"/><path d="M-8.4,22.3 L-6.5,20 L-4.4,22.6 L-2.2,20 L0,22.6 L2.2,20 L4.4,22.6 L6.5,20 L8.4,22.3 L8,25.6 Q7.8,26.6 6.6,26.6 H-6.6 Q-7.8,26.6 -8,25.6 Z" fill="#d9794c"/><path d="M-10.6,3.6 H-4.5 M4.5,3.6 H10.6" stroke="#9a6253" stroke-width="1.2" fill="none"/></g></g>
<g transform="translate(566.00,317.00) rotate(0) scale(1.0,1.0)" fill="#e3e3e3" stroke="#1c1c1c" stroke-width="1.7" stroke-linejoin="round"><g transform="translate(-7.0,0)"><path d="M0.00,-3.50 L-7.50,-3.50 L-7.50,-4.60 L-8.30,-4.90 L-14.00,-3.70 L-14.40,-3.20 L-16.40,-3.20 L-17.00,-2.40 L-17.00,2.40 L-16.40,3.20 L-14.40,3.20 L-14.00,3.70 L-8.30,4.90 L-7.50,4.60 L-7.50,3.50 L0.00,3.50Z"/><path d="M-7.90,-4.50 V4.50 M-14.20,-3.40 V3.40" fill="none" stroke-width="1.1"/></g><g transform="translate(7.0,0) scale(-1,1)"><path d="M0.00,-3.50 L-7.50,-3.50 L-7.50,-4.60 L-8.30,-4.90 L-14.00,-3.70 L-14.40,-3.20 L-16.40,-3.20 L-17.00,-2.40 L-17.00,2.40 L-16.40,3.20 L-14.40,3.20 L-14.00,3.70 L-8.30,4.90 L-7.50,4.60 L-7.50,3.50 L0.00,3.50Z"/><path d="M-7.90,-4.50 V4.50 M-14.20,-3.40 V3.40" fill="none" stroke-width="1.1"/></g><rect x="-4.5" y="9.5" width="9" height="13.5" rx="0.8"/><rect x="-7.0" y="-5.2" width="14.0" height="14.7" rx="1" fill="#dcdcdc"/></g>
<g transform="translate(566.00,343.40)" stroke="#1c1c1c" stroke-width="1.7" stroke-linejoin="round"><rect x="-12.2" y="6.8" width="24.4" height="9.8" rx="1" fill="#ececec"/><rect x="-6.9" y="0.6" width="13.8" height="15.6" rx="1" fill="#dadada"/><rect x="-10" y="16.6" width="20" height="3.2" fill="#bdbdbd" stroke="#444" stroke-width="0.9"/><g transform="translate(0,19.8)"><path d="M-12.2,1.5 Q-12.2,0 -10.5,0 H10.5 Q12.2,0 12.2,1.5 L9.6,25.5 Q9.3,28 7,28 H-7 Q-9.3,28 -9.6,25.5 Z" fill="#2a0e08" stroke="#120503" stroke-width="1.2"/><path d="M-7.55,6 L-5.05,6 L-4.318,22.5 L-6.518000000000001,22.5 Z" fill="#bd7762"/><path d="M-3.35,6 L-0.8500000000000001,6 L-0.706,22.5 L-2.906,22.5 Z" fill="#bd7762"/><path d="M0.8500000000000001,6 L3.35,6 L2.906,22.5 L0.706,22.5 Z" fill="#bd7762"/><path d="M5.05,6 L7.55,6 L6.518000000000001,22.5 L4.318,22.5 Z" fill="#bd7762"/><path d="M-8.4,22.3 L-6.5,20 L-4.4,22.6 L-2.2,20 L0,22.6 L2.2,20 L4.4,22.6 L6.5,20 L8.4,22.3 L8,25.6 Q7.8,26.6 6.6,26.6 H-6.6 Q-7.8,26.6 -8,25.6 Z" fill="#d9794c"/><path d="M-10.6,3.6 H-4.5 M4.5,3.6 H10.6" stroke="#9a6253" stroke-width="1.2" fill="none"/></g></g>
<g transform="translate(198.00,338.00)" stroke="#1c1c1c" stroke-width="1.7" stroke-linejoin="round"><path d="M-2.8,0.5 H2.8 L4.6,6.5 H-4.6 Z" fill="#e3e3e3"/><rect x="-4" y="6.5" width="8" height="3" fill="#e3e3e3"/><rect x="-4.4" y="9.5" width="8.8" height="4" rx="1.5" fill="#e3e3e3"/><rect x="-6.6" y="13.4" width="13.2" height="7.4" fill="#ececec"/><rect x="-4" y="13.4" width="8" height="6" fill="#dadada"/><rect x="-12" y="19.8" width="24" height="10.2" rx="1" fill="#ececec"/><rect x="-5.6" y="20.6" width="11.2" height="9.4" fill="#dadada" stroke-width="1.1"/><rect x="-10" y="30" width="20" height="4" fill="#9a9a9a" stroke="#444" stroke-width="0.9"/><g transform="translate(0,34)"><path d="M-12.2,1.5 Q-12.2,0 -10.5,0 H10.5 Q12.2,0 12.2,1.5 L9.6,25.5 Q9.3,28 7,28 H-7 Q-9.3,28 -9.6,25.5 Z" fill="#2a0e08" stroke="#120503" stroke-width="1.2"/><path d="M-7.55,6 L-5.05,6 L-4.318,22.5 L-6.518000000000001,22.5 Z" fill="#bd7762"/><path d="M-3.35,6 L-0.8500000000000001,6 L-0.706,22.5 L-2.906,22.5 Z" fill="#bd7762"/><path d="M0.8500000000000001,6 L3.35,6 L2.906,22.5 L0.706,22.5 Z" fill="#bd7762"/><path d="M5.05,6 L7.55,6 L6.518000000000001,22.5 L4.318,22.5 Z" fill="#bd7762"/><path d="M-8.4,22.3 L-6.5,20 L-4.4,22.6 L-2.2,20 L0,22.6 L2.2,20 L4.4,22.6 L6.5,20 L8.4,22.3 L8,25.6 Q7.8,26.6 6.6,26.6 H-6.6 Q-7.8,26.6 -8,25.6 Z" fill="#d9794c"/><path d="M-10.6,3.6 H-4.5 M4.5,3.6 H10.6" stroke="#9a6253" stroke-width="1.2" fill="none"/></g></g>
<g transform="translate(669.50,292.00) scale(1.0,1.0)" fill="#e3e3e3" stroke="#1c1c1c" stroke-width="1.7" stroke-linejoin="round"><rect x="-3.4" y="6.8" width="6.8" height="7.6"/><rect x="-11.4" y="0.7" width="22.8" height="6.4" rx="3" fill="#dcdcdc"/><path d="M-9.4,4.4 H9.4" stroke-width="1" fill="none"/><path d="M-5.4,14.2 H5.4 L3.9,21 H-3.9 Z"/><path d="M-3.9,21 H3.9 V22.6 Q3.9,23.9 2.6,23.9 H-2.6 Q-3.9,23.9 -3.9,22.6 Z"/></g>
<g transform="translate(669.10,381.50) rotate(-90) scale(1.0,1.0)" fill="#e3e3e3" stroke="#1c1c1c" stroke-width="1.7" stroke-linejoin="round"><g transform="translate(-6.3,0)"><path d="M0.00,-4.20 L-9.70,-4.20 L-9.70,-5.60 L-10.50,-5.90 L-16.20,-4.70 L-16.60,-4.20 L-18.60,-4.20 L-19.20,-3.40 L-19.20,3.40 L-18.60,4.20 L-16.60,4.20 L-16.20,4.70 L-10.50,5.90 L-9.70,5.60 L-9.70,4.20 L0.00,4.20Z"/><path d="M-10.10,-5.50 V5.50 M-16.40,-4.40 V4.40" fill="none" stroke-width="1.1"/></g><g transform="translate(6.3,0) scale(-1,1)"><path d="M0.00,-4.20 L-9.70,-4.20 L-9.70,-5.60 L-10.50,-5.90 L-16.20,-4.70 L-16.60,-4.20 L-18.60,-4.20 L-19.20,-3.40 L-19.20,3.40 L-18.60,4.20 L-16.60,4.20 L-16.20,4.70 L-10.50,5.90 L-9.70,5.60 L-9.70,4.20 L0.00,4.20Z"/><path d="M-10.10,-5.50 V5.50 M-16.40,-4.40 V4.40" fill="none" stroke-width="1.1"/></g><g transform="translate(0,12) rotate(-90)"><path d="M0.00,-4.20 L-10.10,-4.20 L-10.10,-5.60 L-10.90,-5.90 L-16.60,-4.70 L-17.00,-4.20 L-19.00,-4.20 L-19.60,-3.40 L-19.60,3.40 L-19.00,4.20 L-17.00,4.20 L-16.60,4.70 L-10.90,5.90 L-10.10,5.60 L-10.10,4.20 L0.00,4.20Z"/><path d="M-10.50,-5.50 V5.50 M-16.80,-4.40 V4.40" fill="none" stroke-width="1.1"/></g><rect x="-6.3" y="-5.2" width="12.6" height="17.2" rx="1" fill="#dcdcdc"/></g>
<g transform="translate(669.10,722.20) rotate(-90) scale(1.0,1.0)" fill="#e3e3e3" stroke="#1c1c1c" stroke-width="1.7" stroke-linejoin="round"><g transform="translate(-6.3,0)"><path d="M0.00,-4.20 L-9.00,-4.20 L-9.00,-5.60 L-9.80,-5.90 L-15.50,-4.70 L-15.90,-4.20 L-17.90,-4.20 L-18.50,-3.40 L-18.50,3.40 L-17.90,4.20 L-15.90,4.20 L-15.50,4.70 L-9.80,5.90 L-9.00,5.60 L-9.00,4.20 L0.00,4.20Z"/><path d="M-9.40,-5.50 V5.50 M-15.70,-4.40 V4.40" fill="none" stroke-width="1.1"/></g><g transform="translate(6.3,0) scale(-1,1)"><path d="M0.00,-4.20 L-9.00,-4.20 L-9.00,-5.60 L-9.80,-5.90 L-15.50,-4.70 L-15.90,-4.20 L-17.90,-4.20 L-18.50,-3.40 L-18.50,3.40 L-17.90,4.20 L-15.90,4.20 L-15.50,4.70 L-9.80,5.90 L-9.00,5.60 L-9.00,4.20 L0.00,4.20Z"/><path d="M-9.40,-5.50 V5.50 M-15.70,-4.40 V4.40" fill="none" stroke-width="1.1"/></g><g transform="translate(0,12) rotate(-90)"><path d="M0.00,-4.20 L-10.10,-4.20 L-10.10,-5.60 L-10.90,-5.90 L-16.60,-4.70 L-17.00,-4.20 L-19.00,-4.20 L-19.60,-3.40 L-19.60,3.40 L-19.00,4.20 L-17.00,4.20 L-16.60,4.70 L-10.90,5.90 L-10.10,5.60 L-10.10,4.20 L0.00,4.20Z"/><path d="M-10.50,-5.50 V5.50 M-16.80,-4.40 V4.40" fill="none" stroke-width="1.1"/></g><rect x="-6.3" y="-5.2" width="12.6" height="17.2" rx="1" fill="#dcdcdc"/></g>
<g transform="translate(643.40,722.00) rotate(90) scale(1.0,1.0)" fill="#e3e3e3" stroke="#1c1c1c" stroke-width="1.7" stroke-linejoin="round"><g transform="translate(-6.3,0)"><path d="M0.00,-4.20 L-9.00,-4.20 L-9.00,-5.60 L-9.80,-5.90 L-15.50,-4.70 L-15.90,-4.20 L-17.90,-4.20 L-18.50,-3.40 L-18.50,3.40 L-17.90,4.20 L-15.90,4.20 L-15.50,4.70 L-9.80,5.90 L-9.00,5.60 L-9.00,4.20 L0.00,4.20Z"/><path d="M-9.40,-5.50 V5.50 M-15.70,-4.40 V4.40" fill="none" stroke-width="1.1"/></g><g transform="translate(6.3,0) scale(-1,1)"><path d="M0.00,-4.20 L-9.00,-4.20 L-9.00,-5.60 L-9.80,-5.90 L-15.50,-4.70 L-15.90,-4.20 L-17.90,-4.20 L-18.50,-3.40 L-18.50,3.40 L-17.90,4.20 L-15.90,4.20 L-15.50,4.70 L-9.80,5.90 L-9.00,5.60 L-9.00,4.20 L0.00,4.20Z"/><path d="M-9.40,-5.50 V5.50 M-15.70,-4.40 V4.40" fill="none" stroke-width="1.1"/></g><g transform="translate(0,12) rotate(-90)"><path d="M0.00,-4.20 L-10.10,-4.20 L-10.10,-5.60 L-10.90,-5.90 L-16.60,-4.70 L-17.00,-4.20 L-19.00,-4.20 L-19.60,-3.40 L-19.60,3.40 L-19.00,4.20 L-17.00,4.20 L-16.60,4.70 L-10.90,5.90 L-10.10,5.60 L-10.10,4.20 L0.00,4.20Z"/><path d="M-10.50,-5.50 V5.50 M-16.80,-4.40 V4.40" fill="none" stroke-width="1.1"/></g><rect x="-6.3" y="-5.2" width="12.6" height="17.2" rx="1" fill="#dcdcdc"/></g>
<g transform="translate(669.10,1019.20) rotate(-90) scale(1.0,1.0)" fill="#e3e3e3" stroke="#1c1c1c" stroke-width="1.7" stroke-linejoin="round"><g transform="translate(-6.3,0)"><path d="M0.00,-4.20 L-8.20,-4.20 L-8.20,-5.60 L-9.00,-5.90 L-14.70,-4.70 L-15.10,-4.20 L-17.10,-4.20 L-17.70,-3.40 L-17.70,3.40 L-17.10,4.20 L-15.10,4.20 L-14.70,4.70 L-9.00,5.90 L-8.20,5.60 L-8.20,4.20 L0.00,4.20Z"/><path d="M-8.60,-5.50 V5.50 M-14.90,-4.40 V4.40" fill="none" stroke-width="1.1"/></g><g transform="translate(6.3,0) scale(-1,1)"><path d="M0.00,-4.20 L-8.20,-4.20 L-8.20,-5.60 L-9.00,-5.90 L-14.70,-4.70 L-15.10,-4.20 L-17.10,-4.20 L-17.70,-3.40 L-17.70,3.40 L-17.10,4.20 L-15.10,4.20 L-14.70,4.70 L-9.00,5.90 L-8.20,5.60 L-8.20,4.20 L0.00,4.20Z"/><path d="M-8.60,-5.50 V5.50 M-14.90,-4.40 V4.40" fill="none" stroke-width="1.1"/></g><g transform="translate(0,12) rotate(-90)"><path d="M0.00,-4.20 L-10.10,-4.20 L-10.10,-5.60 L-10.90,-5.90 L-16.60,-4.70 L-17.00,-4.20 L-19.00,-4.20 L-19.60,-3.40 L-19.60,3.40 L-19.00,4.20 L-17.00,4.20 L-16.60,4.70 L-10.90,5.90 L-10.10,5.60 L-10.10,4.20 L0.00,4.20Z"/><path d="M-10.50,-5.50 V5.50 M-16.80,-4.40 V4.40" fill="none" stroke-width="1.1"/></g><rect x="-6.3" y="-5.2" width="12.6" height="17.2" rx="1" fill="#dcdcdc"/></g>
<g transform="translate(643.40,1019.20) rotate(90) scale(1.0,1.0)" fill="#e3e3e3" stroke="#1c1c1c" stroke-width="1.7" stroke-linejoin="round"><g transform="translate(-6.3,0)"><path d="M0.00,-4.20 L-8.20,-4.20 L-8.20,-5.60 L-9.00,-5.90 L-14.70,-4.70 L-15.10,-4.20 L-17.10,-4.20 L-17.70,-3.40 L-17.70,3.40 L-17.10,4.20 L-15.10,4.20 L-14.70,4.70 L-9.00,5.90 L-8.20,5.60 L-8.20,4.20 L0.00,4.20Z"/><path d="M-8.60,-5.50 V5.50 M-14.90,-4.40 V4.40" fill="none" stroke-width="1.1"/></g><g transform="translate(6.3,0) scale(-1,1)"><path d="M0.00,-4.20 L-8.20,-4.20 L-8.20,-5.60 L-9.00,-5.90 L-14.70,-4.70 L-15.10,-4.20 L-17.10,-4.20 L-17.70,-3.40 L-17.70,3.40 L-17.10,4.20 L-15.10,4.20 L-14.70,4.70 L-9.00,5.90 L-8.20,5.60 L-8.20,4.20 L0.00,4.20Z"/><path d="M-8.60,-5.50 V5.50 M-14.90,-4.40 V4.40" fill="none" stroke-width="1.1"/></g><g transform="translate(0,12) rotate(-90)"><path d="M0.00,-4.20 L-10.10,-4.20 L-10.10,-5.60 L-10.90,-5.90 L-16.60,-4.70 L-17.00,-4.20 L-19.00,-4.20 L-19.60,-3.40 L-19.60,3.40 L-19.00,4.20 L-17.00,4.20 L-16.60,4.70 L-10.90,5.90 L-10.10,5.60 L-10.10,4.20 L0.00,4.20Z"/><path d="M-10.50,-5.50 V5.50 M-16.80,-4.40 V4.40" fill="none" stroke-width="1.1"/></g><rect x="-6.3" y="-5.2" width="12.6" height="17.2" rx="1" fill="#dcdcdc"/></g>
<g transform="translate(669.10,1125.20) rotate(-90) scale(1.0,1.0)" fill="#e3e3e3" stroke="#1c1c1c" stroke-width="1.7" stroke-linejoin="round"><g transform="translate(-6.3,0)"><path d="M0.00,-4.20 L-8.20,-4.20 L-8.20,-5.60 L-9.00,-5.90 L-14.70,-4.70 L-15.10,-4.20 L-17.10,-4.20 L-17.70,-3.40 L-17.70,3.40 L-17.10,4.20 L-15.10,4.20 L-14.70,4.70 L-9.00,5.90 L-8.20,5.60 L-8.20,4.20 L0.00,4.20Z"/><path d="M-8.60,-5.50 V5.50 M-14.90,-4.40 V4.40" fill="none" stroke-width="1.1"/></g><g transform="translate(6.3,0) scale(-1,1)"><path d="M0.00,-4.20 L-8.20,-4.20 L-8.20,-5.60 L-9.00,-5.90 L-14.70,-4.70 L-15.10,-4.20 L-17.10,-4.20 L-17.70,-3.40 L-17.70,3.40 L-17.10,4.20 L-15.10,4.20 L-14.70,4.70 L-9.00,5.90 L-8.20,5.60 L-8.20,4.20 L0.00,4.20Z"/><path d="M-8.60,-5.50 V5.50 M-14.90,-4.40 V4.40" fill="none" stroke-width="1.1"/></g><g transform="translate(0,12) rotate(-90)"><path d="M0.00,-4.20 L-10.10,-4.20 L-10.10,-5.60 L-10.90,-5.90 L-16.60,-4.70 L-17.00,-4.20 L-19.00,-4.20 L-19.60,-3.40 L-19.60,3.40 L-19.00,4.20 L-17.00,4.20 L-16.60,4.70 L-10.90,5.90 L-10.10,5.60 L-10.10,4.20 L0.00,4.20Z"/><path d="M-10.50,-5.50 V5.50 M-16.80,-4.40 V4.40" fill="none" stroke-width="1.1"/></g><rect x="-6.3" y="-5.2" width="12.6" height="17.2" rx="1" fill="#dcdcdc"/></g>
<g transform="translate(643.40,1125.20) rotate(90) scale(1.0,1.0)" fill="#e3e3e3" stroke="#1c1c1c" stroke-width="1.7" stroke-linejoin="round"><g transform="translate(-6.3,0)"><path d="M0.00,-4.20 L-8.20,-4.20 L-8.20,-5.60 L-9.00,-5.90 L-14.70,-4.70 L-15.10,-4.20 L-17.10,-4.20 L-17.70,-3.40 L-17.70,3.40 L-17.10,4.20 L-15.10,4.20 L-14.70,4.70 L-9.00,5.90 L-8.20,5.60 L-8.20,4.20 L0.00,4.20Z"/><path d="M-8.60,-5.50 V5.50 M-14.90,-4.40 V4.40" fill="none" stroke-width="1.1"/></g><g transform="translate(6.3,0) scale(-1,1)"><path d="M0.00,-4.20 L-8.20,-4.20 L-8.20,-5.60 L-9.00,-5.90 L-14.70,-4.70 L-15.10,-4.20 L-17.10,-4.20 L-17.70,-3.40 L-17.70,3.40 L-17.10,4.20 L-15.10,4.20 L-14.70,4.70 L-9.00,5.90 L-8.20,5.60 L-8.20,4.20 L0.00,4.20Z"/><path d="M-8.60,-5.50 V5.50 M-14.90,-4.40 V4.40" fill="none" stroke-width="1.1"/></g><g transform="translate(0,12) rotate(-90)"><path d="M0.00,-4.20 L-10.10,-4.20 L-10.10,-5.60 L-10.90,-5.90 L-16.60,-4.70 L-17.00,-4.20 L-19.00,-4.20 L-19.60,-3.40 L-19.60,3.40 L-19.00,4.20 L-17.00,4.20 L-16.60,4.70 L-10.90,5.90 L-10.10,5.60 L-10.10,4.20 L0.00,4.20Z"/><path d="M-10.50,-5.50 V5.50 M-16.80,-4.40 V4.40" fill="none" stroke-width="1.1"/></g><rect x="-6.3" y="-5.2" width="12.6" height="17.2" rx="1" fill="#dcdcdc"/></g>
<g transform="translate(643.40,1226.80) scale(1.0,-1.0)" fill="#e3e3e3" stroke="#1c1c1c" stroke-width="1.7" stroke-linejoin="round"><rect x="-3.4" y="6.8" width="6.8" height="7.6"/><rect x="-11.4" y="0.7" width="22.8" height="6.4" rx="3" fill="#dcdcdc"/><path d="M-9.4,4.4 H9.4" stroke-width="1" fill="none"/><path d="M-5.4,14.2 H5.4 L3.9,21 H-3.9 Z"/><path d="M-3.9,21 H3.9 V22.6 Q3.9,23.9 2.6,23.9 H-2.6 Q-3.9,23.9 -3.9,22.6 Z"/></g>
<g transform="translate(669.80,1226.80) scale(1.0,-1.0)" fill="#e3e3e3" stroke="#1c1c1c" stroke-width="1.7" stroke-linejoin="round"><rect x="-3.4" y="6.8" width="6.8" height="7.6"/><rect x="-11.4" y="0.7" width="22.8" height="6.4" rx="3" fill="#dcdcdc"/><path d="M-9.4,4.4 H9.4" stroke-width="1" fill="none"/><path d="M-5.4,14.2 H5.4 L3.9,21 H-3.9 Z"/><path d="M-3.9,21 H3.9 V22.6 Q3.9,23.9 2.6,23.9 H-2.6 Q-3.9,23.9 -3.9,22.6 Z"/></g>
<g transform="translate(1027.20,319.20) scale(1.0,1.0)" fill="#e3e3e3" stroke="#1c1c1c" stroke-width="1.7" stroke-linejoin="round"><rect x="-3.4" y="6.8" width="6.8" height="7.6"/><rect x="-11.4" y="0.7" width="22.8" height="6.4" rx="3" fill="#dcdcdc"/><path d="M-9.4,4.4 H9.4" stroke-width="1" fill="none"/><path d="M-5.4,14.2 H5.4 L3.9,21 H-3.9 Z"/><path d="M-3.9,21 H3.9 V22.6 Q3.9,23.9 2.6,23.9 H-2.6 Q-3.9,23.9 -3.9,22.6 Z"/></g>
<g transform="translate(1053.40,319.20) scale(1.0,1.0)" fill="#e3e3e3" stroke="#1c1c1c" stroke-width="1.7" stroke-linejoin="round"><rect x="-3.4" y="6.8" width="6.8" height="7.6"/><rect x="-11.4" y="0.7" width="22.8" height="6.4" rx="3" fill="#dcdcdc"/><path d="M-9.4,4.4 H9.4" stroke-width="1" fill="none"/><path d="M-5.4,14.2 H5.4 L3.9,21 H-3.9 Z"/><path d="M-3.9,21 H3.9 V22.6 Q3.9,23.9 2.6,23.9 H-2.6 Q-3.9,23.9 -3.9,22.6 Z"/></g>
<g transform="translate(1053.10,421.00) rotate(-90) scale(1.0,1.0)" fill="#e3e3e3" stroke="#1c1c1c" stroke-width="1.7" stroke-linejoin="round"><g transform="translate(-6.3,0)"><path d="M0.00,-4.20 L-8.90,-4.20 L-8.90,-5.60 L-9.70,-5.90 L-15.40,-4.70 L-15.80,-4.20 L-17.80,-4.20 L-18.40,-3.40 L-18.40,3.40 L-17.80,4.20 L-15.80,4.20 L-15.40,4.70 L-9.70,5.90 L-8.90,5.60 L-8.90,4.20 L0.00,4.20Z"/><path d="M-9.30,-5.50 V5.50 M-15.60,-4.40 V4.40" fill="none" stroke-width="1.1"/></g><g transform="translate(6.3,0) scale(-1,1)"><path d="M0.00,-4.20 L-8.90,-4.20 L-8.90,-5.60 L-9.70,-5.90 L-15.40,-4.70 L-15.80,-4.20 L-17.80,-4.20 L-18.40,-3.40 L-18.40,3.40 L-17.80,4.20 L-15.80,4.20 L-15.40,4.70 L-9.70,5.90 L-8.90,5.60 L-8.90,4.20 L0.00,4.20Z"/><path d="M-9.30,-5.50 V5.50 M-15.60,-4.40 V4.40" fill="none" stroke-width="1.1"/></g><g transform="translate(0,12) rotate(-90)"><path d="M0.00,-4.20 L-10.10,-4.20 L-10.10,-5.60 L-10.90,-5.90 L-16.60,-4.70 L-17.00,-4.20 L-19.00,-4.20 L-19.60,-3.40 L-19.60,3.40 L-19.00,4.20 L-17.00,4.20 L-16.60,4.70 L-10.90,5.90 L-10.10,5.60 L-10.10,4.20 L0.00,4.20Z"/><path d="M-10.50,-5.50 V5.50 M-16.80,-4.40 V4.40" fill="none" stroke-width="1.1"/></g><rect x="-6.3" y="-5.2" width="12.6" height="17.2" rx="1" fill="#dcdcdc"/></g>
<g transform="translate(1053.10,542.20) rotate(-90) scale(1.0,1.0)" fill="#e3e3e3" stroke="#1c1c1c" stroke-width="1.7" stroke-linejoin="round"><g transform="translate(-6.3,0)"><path d="M0.00,-4.20 L-8.90,-4.20 L-8.90,-5.60 L-9.70,-5.90 L-15.40,-4.70 L-15.80,-4.20 L-17.80,-4.20 L-18.40,-3.40 L-18.40,3.40 L-17.80,4.20 L-15.80,4.20 L-15.40,4.70 L-9.70,5.90 L-8.90,5.60 L-8.90,4.20 L0.00,4.20Z"/><path d="M-9.30,-5.50 V5.50 M-15.60,-4.40 V4.40" fill="none" stroke-width="1.1"/></g><g transform="translate(6.3,0) scale(-1,1)"><path d="M0.00,-4.20 L-8.90,-4.20 L-8.90,-5.60 L-9.70,-5.90 L-15.40,-4.70 L-15.80,-4.20 L-17.80,-4.20 L-18.40,-3.40 L-18.40,3.40 L-17.80,4.20 L-15.80,4.20 L-15.40,4.70 L-9.70,5.90 L-8.90,5.60 L-8.90,4.20 L0.00,4.20Z"/><path d="M-9.30,-5.50 V5.50 M-15.60,-4.40 V4.40" fill="none" stroke-width="1.1"/></g><g transform="translate(0,12) rotate(-90)"><path d="M0.00,-4.20 L-10.10,-4.20 L-10.10,-5.60 L-10.90,-5.90 L-16.60,-4.70 L-17.00,-4.20 L-19.00,-4.20 L-19.60,-3.40 L-19.60,3.40 L-19.00,4.20 L-17.00,4.20 L-16.60,4.70 L-10.90,5.90 L-10.10,5.60 L-10.10,4.20 L0.00,4.20Z"/><path d="M-10.50,-5.50 V5.50 M-16.80,-4.40 V4.40" fill="none" stroke-width="1.1"/></g><rect x="-6.3" y="-5.2" width="12.6" height="17.2" rx="1" fill="#dcdcdc"/></g>
<g transform="translate(1027.00,542.20) rotate(90) scale(1.0,1.0)" fill="#e3e3e3" stroke="#1c1c1c" stroke-width="1.7" stroke-linejoin="round"><g transform="translate(-6.3,0)"><path d="M0.00,-4.20 L-8.90,-4.20 L-8.90,-5.60 L-9.70,-5.90 L-15.40,-4.70 L-15.80,-4.20 L-17.80,-4.20 L-18.40,-3.40 L-18.40,3.40 L-17.80,4.20 L-15.80,4.20 L-15.40,4.70 L-9.70,5.90 L-8.90,5.60 L-8.90,4.20 L0.00,4.20Z"/><path d="M-9.30,-5.50 V5.50 M-15.60,-4.40 V4.40" fill="none" stroke-width="1.1"/></g><g transform="translate(6.3,0) scale(-1,1)"><path d="M0.00,-4.20 L-8.90,-4.20 L-8.90,-5.60 L-9.70,-5.90 L-15.40,-4.70 L-15.80,-4.20 L-17.80,-4.20 L-18.40,-3.40 L-18.40,3.40 L-17.80,4.20 L-15.80,4.20 L-15.40,4.70 L-9.70,5.90 L-8.90,5.60 L-8.90,4.20 L0.00,4.20Z"/><path d="M-9.30,-5.50 V5.50 M-15.60,-4.40 V4.40" fill="none" stroke-width="1.1"/></g><g transform="translate(0,12) rotate(-90)"><path d="M0.00,-4.20 L-10.10,-4.20 L-10.10,-5.60 L-10.90,-5.90 L-16.60,-4.70 L-17.00,-4.20 L-19.00,-4.20 L-19.60,-3.40 L-19.60,3.40 L-19.00,4.20 L-17.00,4.20 L-16.60,4.70 L-10.90,5.90 L-10.10,5.60 L-10.10,4.20 L0.00,4.20Z"/><path d="M-10.50,-5.50 V5.50 M-16.80,-4.40 V4.40" fill="none" stroke-width="1.1"/></g><rect x="-6.3" y="-5.2" width="12.6" height="17.2" rx="1" fill="#dcdcdc"/></g>
<g transform="translate(1053.10,662.30) rotate(-90) scale(1.0,1.0)" fill="#e3e3e3" stroke="#1c1c1c" stroke-width="1.7" stroke-linejoin="round"><g transform="translate(-6.3,0)"><path d="M0.00,-4.20 L-8.90,-4.20 L-8.90,-5.60 L-9.70,-5.90 L-15.40,-4.70 L-15.80,-4.20 L-17.80,-4.20 L-18.40,-3.40 L-18.40,3.40 L-17.80,4.20 L-15.80,4.20 L-15.40,4.70 L-9.70,5.90 L-8.90,5.60 L-8.90,4.20 L0.00,4.20Z"/><path d="M-9.30,-5.50 V5.50 M-15.60,-4.40 V4.40" fill="none" stroke-width="1.1"/></g><g transform="translate(6.3,0) scale(-1,1)"><path d="M0.00,-4.20 L-8.90,-4.20 L-8.90,-5.60 L-9.70,-5.90 L-15.40,-4.70 L-15.80,-4.20 L-17.80,-4.20 L-18.40,-3.40 L-18.40,3.40 L-17.80,4.20 L-15.80,4.20 L-15.40,4.70 L-9.70,5.90 L-8.90,5.60 L-8.90,4.20 L0.00,4.20Z"/><path d="M-9.30,-5.50 V5.50 M-15.60,-4.40 V4.40" fill="none" stroke-width="1.1"/></g><g transform="translate(0,12) rotate(-90)"><path d="M0.00,-4.20 L-10.10,-4.20 L-10.10,-5.60 L-10.90,-5.90 L-16.60,-4.70 L-17.00,-4.20 L-19.00,-4.20 L-19.60,-3.40 L-19.60,3.40 L-19.00,4.20 L-17.00,4.20 L-16.60,4.70 L-10.90,5.90 L-10.10,5.60 L-10.10,4.20 L0.00,4.20Z"/><path d="M-10.50,-5.50 V5.50 M-16.80,-4.40 V4.40" fill="none" stroke-width="1.1"/></g><rect x="-6.3" y="-5.2" width="12.6" height="17.2" rx="1" fill="#dcdcdc"/></g>
<g transform="translate(1027.00,716.00) rotate(90) scale(1.0,1.0)" fill="#e3e3e3" stroke="#1c1c1c" stroke-width="1.7" stroke-linejoin="round"><g transform="translate(-6.3,0)"><path d="M0.00,-4.20 L-8.90,-4.20 L-8.90,-5.60 L-9.70,-5.90 L-15.40,-4.70 L-15.80,-4.20 L-17.80,-4.20 L-18.40,-3.40 L-18.40,3.40 L-17.80,4.20 L-15.80,4.20 L-15.40,4.70 L-9.70,5.90 L-8.90,5.60 L-8.90,4.20 L0.00,4.20Z"/><path d="M-9.30,-5.50 V5.50 M-15.60,-4.40 V4.40" fill="none" stroke-width="1.1"/></g><g transform="translate(6.3,0) scale(-1,1)"><path d="M0.00,-4.20 L-8.90,-4.20 L-8.90,-5.60 L-9.70,-5.90 L-15.40,-4.70 L-15.80,-4.20 L-17.80,-4.20 L-18.40,-3.40 L-18.40,3.40 L-17.80,4.20 L-15.80,4.20 L-15.40,4.70 L-9.70,5.90 L-8.90,5.60 L-8.90,4.20 L0.00,4.20Z"/><path d="M-9.30,-5.50 V5.50 M-15.60,-4.40 V4.40" fill="none" stroke-width="1.1"/></g><g transform="translate(0,12) rotate(-90)"><path d="M0.00,-4.20 L-10.10,-4.20 L-10.10,-5.60 L-10.90,-5.90 L-16.60,-4.70 L-17.00,-4.20 L-19.00,-4.20 L-19.60,-3.40 L-19.60,3.40 L-19.00,4.20 L-17.00,4.20 L-16.60,4.70 L-10.90,5.90 L-10.10,5.60 L-10.10,4.20 L0.00,4.20Z"/><path d="M-10.50,-5.50 V5.50 M-16.80,-4.40 V4.40" fill="none" stroke-width="1.1"/></g><rect x="-6.3" y="-5.2" width="12.6" height="17.2" rx="1" fill="#dcdcdc"/></g>
<g transform="translate(1053.10,779.00) rotate(-90) scale(1.0,1.0)" fill="#e3e3e3" stroke="#1c1c1c" stroke-width="1.7" stroke-linejoin="round"><g transform="translate(-6.3,0)"><path d="M0.00,-4.20 L-8.90,-4.20 L-8.90,-5.60 L-9.70,-5.90 L-15.40,-4.70 L-15.80,-4.20 L-17.80,-4.20 L-18.40,-3.40 L-18.40,3.40 L-17.80,4.20 L-15.80,4.20 L-15.40,4.70 L-9.70,5.90 L-8.90,5.60 L-8.90,4.20 L0.00,4.20Z"/><path d="M-9.30,-5.50 V5.50 M-15.60,-4.40 V4.40" fill="none" stroke-width="1.1"/></g><g transform="translate(6.3,0) scale(-1,1)"><path d="M0.00,-4.20 L-8.90,-4.20 L-8.90,-5.60 L-9.70,-5.90 L-15.40,-4.70 L-15.80,-4.20 L-17.80,-4.20 L-18.40,-3.40 L-18.40,3.40 L-17.80,4.20 L-15.80,4.20 L-15.40,4.70 L-9.70,5.90 L-8.90,5.60 L-8.90,4.20 L0.00,4.20Z"/><path d="M-9.30,-5.50 V5.50 M-15.60,-4.40 V4.40" fill="none" stroke-width="1.1"/></g><g transform="translate(0,12) rotate(-90)"><path d="M0.00,-4.20 L-10.10,-4.20 L-10.10,-5.60 L-10.90,-5.90 L-16.60,-4.70 L-17.00,-4.20 L-19.00,-4.20 L-19.60,-3.40 L-19.60,3.40 L-19.00,4.20 L-17.00,4.20 L-16.60,4.70 L-10.90,5.90 L-10.10,5.60 L-10.10,4.20 L0.00,4.20Z"/><path d="M-10.50,-5.50 V5.50 M-16.80,-4.40 V4.40" fill="none" stroke-width="1.1"/></g><rect x="-6.3" y="-5.2" width="12.6" height="17.2" rx="1" fill="#dcdcdc"/></g>
<g transform="translate(1088.70,420.50)" stroke="#1c1c1c" stroke-width="1.7" stroke-linejoin="round"><rect x="6.8" y="-11.3" width="12.6" height="22.6" rx="1" fill="#ececec"/><rect x="0.6" y="-6.5" width="18" height="13" rx="1" fill="#dadada"/><rect x="19.4" y="-9.5" width="2.6" height="19" fill="#9a9a9a" stroke="#444" stroke-width="0.9"/><g transform="translate(21.2,0) rotate(-90) scale(0.9,1.09)"><path d="M-12.2,1.5 Q-12.2,0 -10.5,0 H10.5 Q12.2,0 12.2,1.5 L9.6,25.5 Q9.3,28 7,28 H-7 Q-9.3,28 -9.6,25.5 Z" fill="#2a0e08" stroke="#120503" stroke-width="1.2"/><path d="M-7.55,6 L-5.05,6 L-4.318,22.5 L-6.518000000000001,22.5 Z" fill="#bd7762"/><path d="M-3.35,6 L-0.8500000000000001,6 L-0.706,22.5 L-2.906,22.5 Z" fill="#bd7762"/><path d="M0.8500000000000001,6 L3.35,6 L2.906,22.5 L0.706,22.5 Z" fill="#bd7762"/><path d="M5.05,6 L7.55,6 L6.518000000000001,22.5 L4.318,22.5 Z" fill="#bd7762"/><path d="M-8.4,22.3 L-6.5,20 L-4.4,22.6 L-2.2,20 L0,22.6 L2.2,20 L4.4,22.6 L6.5,20 L8.4,22.3 L8,25.6 Q7.8,26.6 6.6,26.6 H-6.6 Q-7.8,26.6 -8,25.6 Z" fill="#d9794c"/><path d="M-10.6,3.6 H-4.5 M4.5,3.6 H10.6" stroke="#9a6253" stroke-width="1.2" fill="none"/></g></g>
<g transform="translate(1088.70,544.30)" stroke="#1c1c1c" stroke-width="1.7" stroke-linejoin="round"><rect x="6.8" y="-11.3" width="12.6" height="22.6" rx="1" fill="#ececec"/><rect x="0.6" y="-6.5" width="18" height="13" rx="1" fill="#dadada"/><rect x="19.4" y="-9.5" width="2.6" height="19" fill="#9a9a9a" stroke="#444" stroke-width="0.9"/><g transform="translate(21.2,0) rotate(-90) scale(0.9,1.09)"><path d="M-12.2,1.5 Q-12.2,0 -10.5,0 H10.5 Q12.2,0 12.2,1.5 L9.6,25.5 Q9.3,28 7,28 H-7 Q-9.3,28 -9.6,25.5 Z" fill="#2a0e08" stroke="#120503" stroke-width="1.2"/><path d="M-7.55,6 L-5.05,6 L-4.318,22.5 L-6.518000000000001,22.5 Z" fill="#bd7762"/><path d="M-3.35,6 L-0.8500000000000001,6 L-0.706,22.5 L-2.906,22.5 Z" fill="#bd7762"/><path d="M0.8500000000000001,6 L3.35,6 L2.906,22.5 L0.706,22.5 Z" fill="#bd7762"/><path d="M5.05,6 L7.55,6 L6.518000000000001,22.5 L4.318,22.5 Z" fill="#bd7762"/><path d="M-8.4,22.3 L-6.5,20 L-4.4,22.6 L-2.2,20 L0,22.6 L2.2,20 L4.4,22.6 L6.5,20 L8.4,22.3 L8,25.6 Q7.8,26.6 6.6,26.6 H-6.6 Q-7.8,26.6 -8,25.6 Z" fill="#d9794c"/><path d="M-10.6,3.6 H-4.5 M4.5,3.6 H10.6" stroke="#9a6253" stroke-width="1.2" fill="none"/></g></g>
<g transform="translate(1088.70,662.10)" stroke="#1c1c1c" stroke-width="1.7" stroke-linejoin="round"><rect x="6.8" y="-11.3" width="12.6" height="22.6" rx="1" fill="#ececec"/><rect x="0.6" y="-6.5" width="18" height="13" rx="1" fill="#dadada"/><rect x="19.4" y="-9.5" width="2.6" height="19" fill="#9a9a9a" stroke="#444" stroke-width="0.9"/><g transform="translate(21.2,0) rotate(-90) scale(0.9,1.09)"><path d="M-12.2,1.5 Q-12.2,0 -10.5,0 H10.5 Q12.2,0 12.2,1.5 L9.6,25.5 Q9.3,28 7,28 H-7 Q-9.3,28 -9.6,25.5 Z" fill="#2a0e08" stroke="#120503" stroke-width="1.2"/><path d="M-7.55,6 L-5.05,6 L-4.318,22.5 L-6.518000000000001,22.5 Z" fill="#bd7762"/><path d="M-3.35,6 L-0.8500000000000001,6 L-0.706,22.5 L-2.906,22.5 Z" fill="#bd7762"/><path d="M0.8500000000000001,6 L3.35,6 L2.906,22.5 L0.706,22.5 Z" fill="#bd7762"/><path d="M5.05,6 L7.55,6 L6.518000000000001,22.5 L4.318,22.5 Z" fill="#bd7762"/><path d="M-8.4,22.3 L-6.5,20 L-4.4,22.6 L-2.2,20 L0,22.6 L2.2,20 L4.4,22.6 L6.5,20 L8.4,22.3 L8,25.6 Q7.8,26.6 6.6,26.6 H-6.6 Q-7.8,26.6 -8,25.6 Z" fill="#d9794c"/><path d="M-10.6,3.6 H-4.5 M4.5,3.6 H10.6" stroke="#9a6253" stroke-width="1.2" fill="none"/></g></g>
<g transform="translate(1088.70,781.00)" stroke="#1c1c1c" stroke-width="1.7" stroke-linejoin="round"><rect x="6.8" y="-11.3" width="12.6" height="22.6" rx="1" fill="#ececec"/><rect x="0.6" y="-6.5" width="18" height="13" rx="1" fill="#dadada"/><rect x="19.4" y="-9.5" width="2.6" height="19" fill="#9a9a9a" stroke="#444" stroke-width="0.9"/><g transform="translate(21.2,0) rotate(-90) scale(0.9,1.09)"><path d="M-12.2,1.5 Q-12.2,0 -10.5,0 H10.5 Q12.2,0 12.2,1.5 L9.6,25.5 Q9.3,28 7,28 H-7 Q-9.3,28 -9.6,25.5 Z" fill="#2a0e08" stroke="#120503" stroke-width="1.2"/><path d="M-7.55,6 L-5.05,6 L-4.318,22.5 L-6.518000000000001,22.5 Z" fill="#bd7762"/><path d="M-3.35,6 L-0.8500000000000001,6 L-0.706,22.5 L-2.906,22.5 Z" fill="#bd7762"/><path d="M0.8500000000000001,6 L3.35,6 L2.906,22.5 L0.706,22.5 Z" fill="#bd7762"/><path d="M5.05,6 L7.55,6 L6.518000000000001,22.5 L4.318,22.5 Z" fill="#bd7762"/><path d="M-8.4,22.3 L-6.5,20 L-4.4,22.6 L-2.2,20 L0,22.6 L2.2,20 L4.4,22.6 L6.5,20 L8.4,22.3 L8,25.6 Q7.8,26.6 6.6,26.6 H-6.6 Q-7.8,26.6 -8,25.6 Z" fill="#d9794c"/><path d="M-10.6,3.6 H-4.5 M4.5,3.6 H10.6" stroke="#9a6253" stroke-width="1.2" fill="none"/></g></g>
<g transform="translate(643.20,887.70) scale(1,1)" fill="#e3e3e3" stroke="#1c1c1c" stroke-width="1.7" stroke-linejoin="round"><path d="M-6,0 L-4.6,-4.5 H4.6 L6,0 Z"/><rect x="-3.6" y="-13" width="7.2" height="8.5"/><path d="M-5.6,-13 H5.6 L4.2,-19.5 H-4.2 Z"/><rect x="-3.8" y="-23" width="7.6" height="3.6" rx="1.2"/></g><g transform="translate(668.80,887.70) scale(1,1)" fill="#e3e3e3" stroke="#1c1c1c" stroke-width="1.7" stroke-linejoin="round"><path d="M-6,0 L-4.6,-4.5 H4.6 L6,0 Z"/><rect x="-3.6" y="-13" width="7.2" height="8.5"/><path d="M-5.6,-13 H5.6 L4.2,-19.5 H-4.2 Z"/><rect x="-3.8" y="-23" width="7.6" height="3.6" rx="1.2"/></g><g transform="translate(643.20,909.70) scale(1,-1)" fill="#e3e3e3" stroke="#1c1c1c" stroke-width="1.7" stroke-linejoin="round"><path d="M-6,0 L-4.6,-4.5 H4.6 L6,0 Z"/><rect x="-3.6" y="-13" width="7.2" height="8.5"/><path d="M-5.6,-13 H5.6 L4.2,-19.5 H-4.2 Z"/><rect x="-3.8" y="-23" width="7.6" height="3.6" rx="1.2"/></g><g transform="translate(668.80,909.70) scale(1,-1)" fill="#e3e3e3" stroke="#1c1c1c" stroke-width="1.7" stroke-linejoin="round"><path d="M-6,0 L-4.6,-4.5 H4.6 L6,0 Z"/><rect x="-3.6" y="-13" width="7.2" height="8.5"/><path d="M-5.6,-13 H5.6 L4.2,-19.5 H-4.2 Z"/><rect x="-3.8" y="-23" width="7.6" height="3.6" rx="1.2"/></g><rect x="630.6" y="887.4000000000001" width="52" height="22.6" rx="2" fill="#d0d0d0" stroke="#1c1c1c" stroke-width="1.7"/><g transform="translate(631.10,898.70) scale(-1,1)" stroke="#1c1c1c" stroke-width="1.7" stroke-linejoin="round"><path d="M12,-21.45 C30,-22.05 44,-20.75 51.5,-18.05 Q56.5,-16.55 56.9,-10.05 V10.05 Q56.5,16.55 51.5,18.05 C44,20.75 30,22.05 12,21.45 Z" fill="#2e2e2e"/><path d="M13,-19.6 L51.1,-15.9 Q53.3,-14.6 51.1,-13.3 L13,-16.4 Z" fill="#cdcdcd" stroke="none"/><path d="M13,-14.8 L52.8,-12.0 Q55.0,-9.3 52.8,-6.7 L13,-8.2 Z" fill="#cdcdcd" stroke="none"/><path d="M13,-5.4 L53.9,-4.4 Q56.1,0.3 53.9,5.0 L13,6.2 Z" fill="#cdcdcd" stroke="none"/><path d="M13,9.6 L52.6,7.8 Q54.8,10.0 52.6,12.2 L13,15.1 Z" fill="#cdcdcd" stroke="none"/><path d="M13,16.4 L51.1,13.3 Q53.3,14.7 51.1,16.1 L13,19.9 Z" fill="#cdcdcd" stroke="none"/><path d="M56.7,-10.5 Q59.7,0 56.7,10.5" fill="#bdbdbd" stroke="#1c1c1c" stroke-width="1.2"/><rect x="0.6" y="-19.25" width="5" height="38.5" rx="1.5" fill="#d6d6d6"/><rect x="5.6" y="-21.95" width="6.8" height="43.9" rx="2" fill="#dedede"/></g><g transform="translate(682.10,898.70) scale(1,1)" stroke="#1c1c1c" stroke-width="1.7" stroke-linejoin="round"><path d="M12,-21.45 C30,-22.05 44,-20.75 51.5,-18.05 Q56.5,-16.55 56.9,-10.05 V10.05 Q56.5,16.55 51.5,18.05 C44,20.75 30,22.05 12,21.45 Z" fill="#2e2e2e"/><path d="M13,-19.6 L51.1,-15.9 Q53.3,-14.6 51.1,-13.3 L13,-16.4 Z" fill="#cdcdcd" stroke="none"/><path d="M13,-14.8 L52.8,-12.0 Q55.0,-9.3 52.8,-6.7 L13,-8.2 Z" fill="#cdcdcd" stroke="none"/><path d="M13,-5.4 L53.9,-4.4 Q56.1,0.3 53.9,5.0 L13,6.2 Z" fill="#cdcdcd" stroke="none"/><path d="M13,9.6 L52.6,7.8 Q54.8,10.0 52.6,12.2 L13,15.1 Z" fill="#cdcdcd" stroke="none"/><path d="M13,16.4 L51.1,13.3 Q53.3,14.7 51.1,16.1 L13,19.9 Z" fill="#cdcdcd" stroke="none"/><path d="M56.7,-10.5 Q59.7,0 56.7,10.5" fill="#bdbdbd" stroke="#1c1c1c" stroke-width="1.2"/><rect x="0.6" y="-19.25" width="5" height="38.5" rx="1.5" fill="#d6d6d6"/><rect x="5.6" y="-21.95" width="6.8" height="43.9" rx="2" fill="#dedede"/></g>
<g transform="translate(1026.80,887.70) scale(1,1)" fill="#e3e3e3" stroke="#1c1c1c" stroke-width="1.7" stroke-linejoin="round"><path d="M-6,0 L-4.6,-4.5 H4.6 L6,0 Z"/><rect x="-3.6" y="-13" width="7.2" height="8.5"/><path d="M-5.6,-13 H5.6 L4.2,-19.5 H-4.2 Z"/><rect x="-3.8" y="-23" width="7.6" height="3.6" rx="1.2"/></g><g transform="translate(1052.90,887.70) scale(1,1)" fill="#e3e3e3" stroke="#1c1c1c" stroke-width="1.7" stroke-linejoin="round"><path d="M-6,0 L-4.6,-4.5 H4.6 L6,0 Z"/><rect x="-3.6" y="-13" width="7.2" height="8.5"/><path d="M-5.6,-13 H5.6 L4.2,-19.5 H-4.2 Z"/><rect x="-3.8" y="-23" width="7.6" height="3.6" rx="1.2"/></g><g transform="translate(1026.80,909.70) scale(1,-1)" fill="#e3e3e3" stroke="#1c1c1c" stroke-width="1.7" stroke-linejoin="round"><path d="M-6,0 L-4.6,-4.5 H4.6 L6,0 Z"/><rect x="-3.6" y="-13" width="7.2" height="8.5"/><path d="M-5.6,-13 H5.6 L4.2,-19.5 H-4.2 Z"/><rect x="-3.8" y="-23" width="7.6" height="3.6" rx="1.2"/></g><g transform="translate(1052.90,909.70) scale(1,-1)" fill="#e3e3e3" stroke="#1c1c1c" stroke-width="1.7" stroke-linejoin="round"><path d="M-6,0 L-4.6,-4.5 H4.6 L6,0 Z"/><rect x="-3.6" y="-13" width="7.2" height="8.5"/><path d="M-5.6,-13 H5.6 L4.2,-19.5 H-4.2 Z"/><rect x="-3.8" y="-23" width="7.6" height="3.6" rx="1.2"/></g><rect x="1014.5999999999999" y="887.4000000000001" width="52" height="22.6" rx="2" fill="#d0d0d0" stroke="#1c1c1c" stroke-width="1.7"/><g transform="translate(1015.10,898.70) scale(-1,1)" stroke="#1c1c1c" stroke-width="1.7" stroke-linejoin="round"><path d="M12,-21.45 C30,-22.05 44,-20.75 51.5,-18.05 Q56.5,-16.55 56.9,-10.05 V10.05 Q56.5,16.55 51.5,18.05 C44,20.75 30,22.05 12,21.45 Z" fill="#2e2e2e"/><path d="M13,-19.6 L51.1,-15.9 Q53.3,-14.6 51.1,-13.3 L13,-16.4 Z" fill="#cdcdcd" stroke="none"/><path d="M13,-14.8 L52.8,-12.0 Q55.0,-9.3 52.8,-6.7 L13,-8.2 Z" fill="#cdcdcd" stroke="none"/><path d="M13,-5.4 L53.9,-4.4 Q56.1,0.3 53.9,5.0 L13,6.2 Z" fill="#cdcdcd" stroke="none"/><path d="M13,9.6 L52.6,7.8 Q54.8,10.0 52.6,12.2 L13,15.1 Z" fill="#cdcdcd" stroke="none"/><path d="M13,16.4 L51.1,13.3 Q53.3,14.7 51.1,16.1 L13,19.9 Z" fill="#cdcdcd" stroke="none"/><path d="M56.7,-10.5 Q59.7,0 56.7,10.5" fill="#bdbdbd" stroke="#1c1c1c" stroke-width="1.2"/><rect x="0.6" y="-19.25" width="5" height="38.5" rx="1.5" fill="#d6d6d6"/><rect x="5.6" y="-21.95" width="6.8" height="43.9" rx="2" fill="#dedede"/></g><g transform="translate(1066.10,898.70) scale(1,1)" stroke="#1c1c1c" stroke-width="1.7" stroke-linejoin="round"><path d="M12,-21.45 C30,-22.05 44,-20.75 51.5,-18.05 Q56.5,-16.55 56.9,-10.05 V10.05 Q56.5,16.55 51.5,18.05 C44,20.75 30,22.05 12,21.45 Z" fill="#2e2e2e"/><path d="M13,-19.6 L51.1,-15.9 Q53.3,-14.6 51.1,-13.3 L13,-16.4 Z" fill="#cdcdcd" stroke="none"/><path d="M13,-14.8 L52.8,-12.0 Q55.0,-9.3 52.8,-6.7 L13,-8.2 Z" fill="#cdcdcd" stroke="none"/><path d="M13,-5.4 L53.9,-4.4 Q56.1,0.3 53.9,5.0 L13,6.2 Z" fill="#cdcdcd" stroke="none"/><path d="M13,9.6 L52.6,7.8 Q54.8,10.0 52.6,12.2 L13,15.1 Z" fill="#cdcdcd" stroke="none"/><path d="M13,16.4 L51.1,13.3 Q53.3,14.7 51.1,16.1 L13,19.9 Z" fill="#cdcdcd" stroke="none"/><path d="M56.7,-10.5 Q59.7,0 56.7,10.5" fill="#bdbdbd" stroke="#1c1c1c" stroke-width="1.2"/><rect x="0.6" y="-19.25" width="5" height="38.5" rx="1.5" fill="#d6d6d6"/><rect x="5.6" y="-21.95" width="6.8" height="43.9" rx="2" fill="#dedede"/></g>
<g transform="translate(1295.50,899.50) scale(-1,1)" stroke="#1c1c1c" stroke-width="1.7" stroke-linejoin="round"><path d="M12,-21.45 C30,-22.05 44,-20.75 51.5,-18.05 Q56.5,-16.55 56.9,-10.05 V10.05 Q56.5,16.55 51.5,18.05 C44,20.75 30,22.05 12,21.45 Z" fill="#2e2e2e"/><path d="M13,-19.6 L51.1,-15.9 Q53.3,-14.6 51.1,-13.3 L13,-16.4 Z" fill="#cdcdcd" stroke="none"/><path d="M13,-14.8 L52.8,-12.0 Q55.0,-9.3 52.8,-6.7 L13,-8.2 Z" fill="#cdcdcd" stroke="none"/><path d="M13,-5.4 L53.9,-4.4 Q56.1,0.3 53.9,5.0 L13,6.2 Z" fill="#cdcdcd" stroke="none"/><path d="M13,9.6 L52.6,7.8 Q54.8,10.0 52.6,12.2 L13,15.1 Z" fill="#cdcdcd" stroke="none"/><path d="M13,16.4 L51.1,13.3 Q53.3,14.7 51.1,16.1 L13,19.9 Z" fill="#cdcdcd" stroke="none"/><path d="M56.7,-10.5 Q59.7,0 56.7,10.5" fill="#bdbdbd" stroke="#1c1c1c" stroke-width="1.2"/><rect x="0.6" y="-19.25" width="5" height="38.5" rx="1.5" fill="#d6d6d6"/><rect x="5.6" y="-21.95" width="6.8" height="43.9" rx="2" fill="#dedede"/></g><g stroke="#1c1c1c" stroke-width="1.7" stroke-linejoin="round"><path d="M1295,878.0 H1304 Q1308,878.0 1308,882.5 V916.5 Q1308,921.0 1304,921.0 H1295 Z" fill="#d2d2d2"/><rect x="1298.5" y="881.3" width="7.6" height="7.6" fill="#e0e0e0" stroke-width="1.1"/><rect x="1298.5" y="890.8" width="7.6" height="7.6" fill="#e0e0e0" stroke-width="1.1"/><rect x="1298.5" y="900.3" width="7.6" height="7.6" fill="#e0e0e0" stroke-width="1.1"/><rect x="1298.5" y="909.8" width="7.6" height="7.6" fill="#e0e0e0" stroke-width="1.1"/></g>
<g transform="translate(846.40,980.70)" stroke="#1c1c1c" stroke-width="1.7" stroke-linejoin="round"><rect x="6.8" y="-11.3" width="12.6" height="22.6" rx="1" fill="#ececec"/><rect x="0.6" y="-6.5" width="18" height="13" rx="1" fill="#dadada"/><rect x="19.4" y="-9.5" width="2.6" height="19" fill="#9a9a9a" stroke="#444" stroke-width="0.9"/><g transform="translate(21.2,0) rotate(-90) scale(0.9,1.09)"><path d="M-12.2,1.5 Q-12.2,0 -10.5,0 H10.5 Q12.2,0 12.2,1.5 L9.6,25.5 Q9.3,28 7,28 H-7 Q-9.3,28 -9.6,25.5 Z" fill="#2a0e08" stroke="#120503" stroke-width="1.2"/><path d="M-7.55,6 L-5.05,6 L-4.318,22.5 L-6.518000000000001,22.5 Z" fill="#bd7762"/><path d="M-3.35,6 L-0.8500000000000001,6 L-0.706,22.5 L-2.906,22.5 Z" fill="#bd7762"/><path d="M0.8500000000000001,6 L3.35,6 L2.906,22.5 L0.706,22.5 Z" fill="#bd7762"/><path d="M5.05,6 L7.55,6 L6.518000000000001,22.5 L4.318,22.5 Z" fill="#bd7762"/><path d="M-8.4,22.3 L-6.5,20 L-4.4,22.6 L-2.2,20 L0,22.6 L2.2,20 L4.4,22.6 L6.5,20 L8.4,22.3 L8,25.6 Q7.8,26.6 6.6,26.6 H-6.6 Q-7.8,26.6 -8,25.6 Z" fill="#d9794c"/><path d="M-10.6,3.6 H-4.5 M4.5,3.6 H10.6" stroke="#9a6253" stroke-width="1.2" fill="none"/></g></g></g>
<g><g transform="translate(847.60,350.00)" stroke="#1c1c1c" stroke-width="1.8" stroke-linejoin="round"><rect x="-10.6" y="20" width="21.2" height="77.0" fill="#d8d8d8"/><rect x="-2.3" y="21" width="4.6" height="76.0" fill="#7d7d7d" stroke="#111" stroke-width="1.3"/><g transform="translate(0,30.7) scale(-1,1)" stroke-width="1.4"><rect x="2" y="-2.9" width="6" height="5.8" fill="#f4f4f4" stroke-width="1.1"/><rect x="10" y="-3.3" width="10.5" height="6.6" fill="#ececec"/><rect x="7.2" y="-5" width="3" height="10" rx="1.2" fill="#ececec"/><path d="M20.5,-5.4 L27.6,-2.8 V2.8 L20.5,5.4 Z" fill="#ececec"/><rect x="27.6" y="-2.3" width="3.2" height="4.6" rx="1" fill="#ececec"/></g><rect x="-13.6" y="18" width="27.2" height="3.2" rx="0.8" fill="#f2f2f2" stroke-width="1.3"/><path d="M-12.9,15 V4 Q-12.9,0.6 -9.2,0.6 H9.2 Q12.9,0.6 12.9,4 V15 L14.2,15.6 V17.6 H-14.2 V15.6 Z" fill="#4a0f0f" stroke="#4a0f0f" stroke-width="1.3"/><path d="M-11.4,14.4 V4.6 Q-11.4,2.2 -8.8,2.2 H8.8 Q11.4,2.2 11.4,4.6 V14.4 Z" fill="#b53836" stroke="none"/><rect x="-9.8" y="4.6" width="3.200000000000001" height="9" fill="#d65853" stroke="none"/><rect x="-2.4" y="4.6" width="4.8" height="9" fill="#d65853" stroke="none"/><rect x="6.6" y="4.6" width="3.200000000000001" height="9" fill="#d65853" stroke="none"/><rect x="-5.4" y="3" width="1.3" height="11.4" fill="#4a0f0f" stroke="none" opacity="0.9"/><rect x="-3.6" y="3" width="1.3" height="11.4" fill="#4a0f0f" stroke="none" opacity="0.9"/><rect x="2.3" y="3" width="1.3" height="11.4" fill="#4a0f0f" stroke="none" opacity="0.9"/><rect x="4.1" y="3" width="1.3" height="11.4" fill="#4a0f0f" stroke="none" opacity="0.9"/><path d="M-1.2,4 L0,7.5 L1.2,4" fill="none" stroke="#4a0f0f" stroke-width="1" opacity="0.8"/></g>
<g transform="translate(432.20,629.50)" stroke="#1c1c1c" stroke-width="1.8" stroke-linejoin="round"><rect x="-10.6" y="20" width="21.2" height="56.5" fill="#d8d8d8"/><rect x="-2.3" y="21" width="4.6" height="55.5" fill="#7d7d7d" stroke="#111" stroke-width="1.3"/><g transform="translate(0,30.7) scale(1,1)" stroke-width="1.4"><rect x="2" y="-2.9" width="6" height="5.8" fill="#f4f4f4" stroke-width="1.1"/><rect x="10" y="-3.3" width="10.5" height="6.6" fill="#ececec"/><rect x="7.2" y="-5" width="3" height="10" rx="1.2" fill="#ececec"/><path d="M20.5,-5.4 L27.6,-2.8 V2.8 L20.5,5.4 Z" fill="#ececec"/><rect x="27.6" y="-2.3" width="3.2" height="4.6" rx="1" fill="#ececec"/></g><rect x="-13.6" y="18" width="27.2" height="3.2" rx="0.8" fill="#f2f2f2" stroke-width="1.3"/><path d="M-12.9,15 V4 Q-12.9,0.6 -9.2,0.6 H9.2 Q12.9,0.6 12.9,4 V15 L14.2,15.6 V17.6 H-14.2 V15.6 Z" fill="#4a0f0f" stroke="#4a0f0f" stroke-width="1.3"/><path d="M-11.4,14.4 V4.6 Q-11.4,2.2 -8.8,2.2 H8.8 Q11.4,2.2 11.4,4.6 V14.4 Z" fill="#b53836" stroke="none"/><rect x="-9.8" y="4.6" width="3.200000000000001" height="9" fill="#d65853" stroke="none"/><rect x="-2.4" y="4.6" width="4.8" height="9" fill="#d65853" stroke="none"/><rect x="6.6" y="4.6" width="3.200000000000001" height="9" fill="#d65853" stroke="none"/><rect x="-5.4" y="3" width="1.3" height="11.4" fill="#4a0f0f" stroke="none" opacity="0.9"/><rect x="-3.6" y="3" width="1.3" height="11.4" fill="#4a0f0f" stroke="none" opacity="0.9"/><rect x="2.3" y="3" width="1.3" height="11.4" fill="#4a0f0f" stroke="none" opacity="0.9"/><rect x="4.1" y="3" width="1.3" height="11.4" fill="#4a0f0f" stroke="none" opacity="0.9"/><path d="M-1.2,4 L0,7.5 L1.2,4" fill="none" stroke="#4a0f0f" stroke-width="1" opacity="0.8"/></g>
<g transform="translate(840.30,650.30)" stroke="#1c1c1c" stroke-width="1.8" stroke-linejoin="round"><rect x="-10.6" y="20" width="21.2" height="77.7" fill="#d8d8d8"/><rect x="-2.3" y="21" width="4.6" height="76.7" fill="#7d7d7d" stroke="#111" stroke-width="1.3"/><g transform="translate(0,30.7) scale(-1,1)" stroke-width="1.4"><rect x="2" y="-2.9" width="6" height="5.8" fill="#f4f4f4" stroke-width="1.1"/><rect x="10" y="-3.3" width="10.5" height="6.6" fill="#ececec"/><rect x="7.2" y="-5" width="3" height="10" rx="1.2" fill="#ececec"/><path d="M20.5,-5.4 L27.6,-2.8 V2.8 L20.5,5.4 Z" fill="#ececec"/><rect x="27.6" y="-2.3" width="3.2" height="4.6" rx="1" fill="#ececec"/></g><rect x="-13.6" y="18" width="27.2" height="3.2" rx="0.8" fill="#f2f2f2" stroke-width="1.3"/><path d="M-12.9,15 V4 Q-12.9,0.6 -9.2,0.6 H9.2 Q12.9,0.6 12.9,4 V15 L14.2,15.6 V17.6 H-14.2 V15.6 Z" fill="#4a0f0f" stroke="#4a0f0f" stroke-width="1.3"/><path d="M-11.4,14.4 V4.6 Q-11.4,2.2 -8.8,2.2 H8.8 Q11.4,2.2 11.4,4.6 V14.4 Z" fill="#b53836" stroke="none"/><rect x="-9.8" y="4.6" width="3.200000000000001" height="9" fill="#d65853" stroke="none"/><rect x="-2.4" y="4.6" width="4.8" height="9" fill="#d65853" stroke="none"/><rect x="6.6" y="4.6" width="3.200000000000001" height="9" fill="#d65853" stroke="none"/><rect x="-5.4" y="3" width="1.3" height="11.4" fill="#4a0f0f" stroke="none" opacity="0.9"/><rect x="-3.6" y="3" width="1.3" height="11.4" fill="#4a0f0f" stroke="none" opacity="0.9"/><rect x="2.3" y="3" width="1.3" height="11.4" fill="#4a0f0f" stroke="none" opacity="0.9"/><rect x="4.1" y="3" width="1.3" height="11.4" fill="#4a0f0f" stroke="none" opacity="0.9"/><path d="M-1.2,4 L0,7.5 L1.2,4" fill="none" stroke="#4a0f0f" stroke-width="1" opacity="0.8"/></g>
<g transform="translate(926.40,684.90)" stroke="#1c1c1c" stroke-width="1.8" stroke-linejoin="round"><rect x="-10.6" y="20" width="21.2" height="55.1" fill="#d8d8d8"/><rect x="-2.3" y="21" width="4.6" height="54.1" fill="#7d7d7d" stroke="#111" stroke-width="1.3"/><g transform="translate(0,30.7) scale(1,1)" stroke-width="1.4"><rect x="2" y="-2.9" width="6" height="5.8" fill="#f4f4f4" stroke-width="1.1"/><rect x="10" y="-3.3" width="10.5" height="6.6" fill="#ececec"/><rect x="7.2" y="-5" width="3" height="10" rx="1.2" fill="#ececec"/><path d="M20.5,-5.4 L27.6,-2.8 V2.8 L20.5,5.4 Z" fill="#ececec"/><rect x="27.6" y="-2.3" width="3.2" height="4.6" rx="1" fill="#ececec"/></g><rect x="-13.6" y="18" width="27.2" height="3.2" rx="0.8" fill="#f2f2f2" stroke-width="1.3"/><path d="M-12.9,15 V4 Q-12.9,0.6 -9.2,0.6 H9.2 Q12.9,0.6 12.9,4 V15 L14.2,15.6 V17.6 H-14.2 V15.6 Z" fill="#0b3b44" stroke="#0b3b44" stroke-width="1.3"/><path d="M-11.4,14.4 V4.6 Q-11.4,2.2 -8.8,2.2 H8.8 Q11.4,2.2 11.4,4.6 V14.4 Z" fill="#2597aa" stroke="none"/><rect x="-9.8" y="4.6" width="3.200000000000001" height="9" fill="#4cc2d2" stroke="none"/><rect x="-2.4" y="4.6" width="4.8" height="9" fill="#4cc2d2" stroke="none"/><rect x="6.6" y="4.6" width="3.200000000000001" height="9" fill="#4cc2d2" stroke="none"/><rect x="-5.4" y="3" width="1.3" height="11.4" fill="#0b3b44" stroke="none" opacity="0.9"/><rect x="-3.6" y="3" width="1.3" height="11.4" fill="#0b3b44" stroke="none" opacity="0.9"/><rect x="2.3" y="3" width="1.3" height="11.4" fill="#0b3b44" stroke="none" opacity="0.9"/><rect x="4.1" y="3" width="1.3" height="11.4" fill="#0b3b44" stroke="none" opacity="0.9"/><path d="M-1.2,4 L0,7.5 L1.2,4" fill="none" stroke="#0b3b44" stroke-width="1" opacity="0.8"/></g>
<g transform="translate(926.20,510.60)" stroke="#1c1c1c" stroke-width="1.8" stroke-linejoin="round"><rect x="-10.6" y="20" width="21.2" height="54.4" fill="#d8d8d8"/><rect x="-2.3" y="21" width="4.6" height="53.4" fill="#7d7d7d" stroke="#111" stroke-width="1.3"/><g transform="translate(0,30.7) scale(1,1)" stroke-width="1.4"><rect x="2" y="-2.9" width="6" height="5.8" fill="#f4f4f4" stroke-width="1.1"/><rect x="10" y="-3.3" width="10.5" height="6.6" fill="#ececec"/><rect x="7.2" y="-5" width="3" height="10" rx="1.2" fill="#ececec"/><path d="M20.5,-5.4 L27.6,-2.8 V2.8 L20.5,5.4 Z" fill="#ececec"/><rect x="27.6" y="-2.3" width="3.2" height="4.6" rx="1" fill="#ececec"/></g><rect x="-13.6" y="18" width="27.2" height="3.2" rx="0.8" fill="#f2f2f2" stroke-width="1.3"/><path d="M-12.9,15 V4 Q-12.9,0.6 -9.2,0.6 H9.2 Q12.9,0.6 12.9,4 V15 L14.2,15.6 V17.6 H-14.2 V15.6 Z" fill="#4a0f0f" stroke="#4a0f0f" stroke-width="1.3"/><path d="M-11.4,14.4 V4.6 Q-11.4,2.2 -8.8,2.2 H8.8 Q11.4,2.2 11.4,4.6 V14.4 Z" fill="#b53836" stroke="none"/><rect x="-9.8" y="4.6" width="3.200000000000001" height="9" fill="#d65853" stroke="none"/><rect x="-2.4" y="4.6" width="4.8" height="9" fill="#d65853" stroke="none"/><rect x="6.6" y="4.6" width="3.200000000000001" height="9" fill="#d65853" stroke="none"/><rect x="-5.4" y="3" width="1.3" height="11.4" fill="#4a0f0f" stroke="none" opacity="0.9"/><rect x="-3.6" y="3" width="1.3" height="11.4" fill="#4a0f0f" stroke="none" opacity="0.9"/><rect x="2.3" y="3" width="1.3" height="11.4" fill="#4a0f0f" stroke="none" opacity="0.9"/><rect x="4.1" y="3" width="1.3" height="11.4" fill="#4a0f0f" stroke="none" opacity="0.9"/><path d="M-1.2,4 L0,7.5 L1.2,4" fill="none" stroke="#4a0f0f" stroke-width="1" opacity="0.8"/></g>
<g transform="translate(266.10,937.00)" stroke="#1c1c1c" stroke-width="1.8" stroke-linejoin="round"><rect x="-10.6" y="20" width="21.2" height="68.0" fill="#d8d8d8"/><rect x="-2.3" y="21" width="4.6" height="67.0" fill="#7d7d7d" stroke="#111" stroke-width="1.3"/><g transform="translate(0,30.7) scale(1,1)" stroke-width="1.4"><rect x="2" y="-2.9" width="6" height="5.8" fill="#f4f4f4" stroke-width="1.1"/><rect x="10" y="-3.3" width="10.5" height="6.6" fill="#ececec"/><rect x="7.2" y="-5" width="3" height="10" rx="1.2" fill="#ececec"/><path d="M20.5,-5.4 L27.6,-2.8 V2.8 L20.5,5.4 Z" fill="#ececec"/><rect x="27.6" y="-2.3" width="3.2" height="4.6" rx="1" fill="#ececec"/></g><rect x="-13.6" y="18" width="27.2" height="3.2" rx="0.8" fill="#f2f2f2" stroke-width="1.3"/><path d="M-12.9,15 V4 Q-12.9,0.6 -9.2,0.6 H9.2 Q12.9,0.6 12.9,4 V15 L14.2,15.6 V17.6 H-14.2 V15.6 Z" fill="#4a0f0f" stroke="#4a0f0f" stroke-width="1.3"/><path d="M-11.4,14.4 V4.6 Q-11.4,2.2 -8.8,2.2 H8.8 Q11.4,2.2 11.4,4.6 V14.4 Z" fill="#b53836" stroke="none"/><rect x="-9.8" y="4.6" width="3.200000000000001" height="9" fill="#d65853" stroke="none"/><rect x="-2.4" y="4.6" width="4.8" height="9" fill="#d65853" stroke="none"/><rect x="6.6" y="4.6" width="3.200000000000001" height="9" fill="#d65853" stroke="none"/><rect x="-5.4" y="3" width="1.3" height="11.4" fill="#4a0f0f" stroke="none" opacity="0.9"/><rect x="-3.6" y="3" width="1.3" height="11.4" fill="#4a0f0f" stroke="none" opacity="0.9"/><rect x="2.3" y="3" width="1.3" height="11.4" fill="#4a0f0f" stroke="none" opacity="0.9"/><rect x="4.1" y="3" width="1.3" height="11.4" fill="#4a0f0f" stroke="none" opacity="0.9"/><path d="M-1.2,4 L0,7.5 L1.2,4" fill="none" stroke="#4a0f0f" stroke-width="1" opacity="0.8"/></g>
<g transform="translate(435.50,1021.70)" stroke="#1c1c1c" stroke-width="1.8" stroke-linejoin="round"><rect x="-10.6" y="28.8" width="21.2" height="62.5" fill="#d8d8d8"/><rect x="-2.3" y="29.8" width="4.6" height="61.5" fill="#7d7d7d" stroke="#111" stroke-width="1.3"/><g transform="translate(0,39.5) scale(1,1)" stroke-width="1.4"><rect x="2" y="-2.9" width="6" height="5.8" fill="#f4f4f4" stroke-width="1.1"/><rect x="10" y="-3.3" width="10.5" height="6.6" fill="#ececec"/><rect x="7.2" y="-5" width="3" height="10" rx="1.2" fill="#ececec"/><path d="M20.5,-5.4 L27.6,-2.8 V2.8 L20.5,5.4 Z" fill="#ececec"/><rect x="27.6" y="-2.3" width="3.2" height="4.6" rx="1" fill="#ececec"/></g><rect x="-13.6" y="26.8" width="27.2" height="3.2" rx="0.8" fill="#f2f2f2" stroke-width="1.3"/><path d="M-11.8,9 V3.6 Q-11.8,1.6 -8.4,1.2 H8.4 Q11.8,1.6 11.8,3.6 V9 Z" fill="#e6e6e6" stroke-width="1.3"/><path d="M-7.6,0.9 H7.6" stroke="#111" stroke-width="1.8" stroke-linecap="round"/><rect x="-13.4" y="24.4" width="26.8" height="2.6" rx="1" fill="#8a8a8a" stroke-width="1"/><path d="M-12.6,24.4 V10.6 Q-12.6,8.4 -10.4,8.4 H10.4 Q12.6,8.4 12.6,10.6 V24.4 Z" fill="#17356a" stroke="#0c1830" stroke-width="1.3"/><rect x="-10.4" y="10.8" width="9.4" height="12.4" fill="#2f92e4" stroke="none"/><rect x="1" y="10.8" width="9.4" height="12.4" fill="#2f92e4" stroke="none"/><rect x="-6.2" y="13" width="1.2" height="10" fill="#1f7fd0" stroke="none"/><rect x="5" y="13" width="1.2" height="10" fill="#1f7fd0" stroke="none"/></g>
<g transform="translate(1153.60,1044.20)" stroke="#1c1c1c" stroke-width="1.8" stroke-linejoin="round"><rect x="-10.6" y="28.8" width="21.2" height="55.0" fill="#d8d8d8"/><rect x="-2.3" y="29.8" width="4.6" height="54.0" fill="#7d7d7d" stroke="#111" stroke-width="1.3"/><g transform="translate(0,39.5) scale(-1,1)" stroke-width="1.4"><rect x="2" y="-2.9" width="6" height="5.8" fill="#f4f4f4" stroke-width="1.1"/><rect x="10" y="-3.3" width="10.5" height="6.6" fill="#ececec"/><rect x="7.2" y="-5" width="3" height="10" rx="1.2" fill="#ececec"/><path d="M20.5,-5.4 L27.6,-2.8 V2.8 L20.5,5.4 Z" fill="#ececec"/><rect x="27.6" y="-2.3" width="3.2" height="4.6" rx="1" fill="#ececec"/></g><rect x="-13.6" y="26.8" width="27.2" height="3.2" rx="0.8" fill="#f2f2f2" stroke-width="1.3"/><path d="M-11.8,9 V3.6 Q-11.8,1.6 -8.4,1.2 H8.4 Q11.8,1.6 11.8,3.6 V9 Z" fill="#e6e6e6" stroke-width="1.3"/><path d="M-7.6,0.9 H7.6" stroke="#111" stroke-width="1.8" stroke-linecap="round"/><rect x="-13.4" y="24.4" width="26.8" height="2.6" rx="1" fill="#8a8a8a" stroke-width="1"/><path d="M-12.6,24.4 V10.6 Q-12.6,8.4 -10.4,8.4 H10.4 Q12.6,8.4 12.6,10.6 V24.4 Z" fill="#17356a" stroke="#0c1830" stroke-width="1.3"/><rect x="-10.4" y="10.8" width="9.4" height="12.4" fill="#2f92e4" stroke="none"/><rect x="1" y="10.8" width="9.4" height="12.4" fill="#2f92e4" stroke="none"/><rect x="-6.2" y="13" width="1.2" height="10" fill="#1f7fd0" stroke="none"/><rect x="5" y="13" width="1.2" height="10" fill="#1f7fd0" stroke="none"/></g>
<g transform="translate(926.50,1053.50)" stroke="#1c1c1c" stroke-width="1.8" stroke-linejoin="round"><rect x="-10.6" y="20" width="21.2" height="61.5" fill="#d8d8d8"/><rect x="-2.3" y="21" width="4.6" height="60.5" fill="#7d7d7d" stroke="#111" stroke-width="1.3"/><g transform="translate(0,30.7) scale(1,1)" stroke-width="1.4"><rect x="2" y="-2.9" width="6" height="5.8" fill="#f4f4f4" stroke-width="1.1"/><rect x="10" y="-3.3" width="10.5" height="6.6" fill="#ececec"/><rect x="7.2" y="-5" width="3" height="10" rx="1.2" fill="#ececec"/><path d="M20.5,-5.4 L27.6,-2.8 V2.8 L20.5,5.4 Z" fill="#ececec"/><rect x="27.6" y="-2.3" width="3.2" height="4.6" rx="1" fill="#ececec"/></g><rect x="-13.6" y="18" width="27.2" height="3.2" rx="0.8" fill="#f2f2f2" stroke-width="1.3"/><path d="M-12.9,15 V4 Q-12.9,0.6 -9.2,0.6 H9.2 Q12.9,0.6 12.9,4 V15 L14.2,15.6 V17.6 H-14.2 V15.6 Z" fill="#4a0f0f" stroke="#4a0f0f" stroke-width="1.3"/><path d="M-11.4,14.4 V4.6 Q-11.4,2.2 -8.8,2.2 H8.8 Q11.4,2.2 11.4,4.6 V14.4 Z" fill="#b53836" stroke="none"/><rect x="-9.8" y="4.6" width="3.200000000000001" height="9" fill="#d65853" stroke="none"/><rect x="-2.4" y="4.6" width="4.8" height="9" fill="#d65853" stroke="none"/><rect x="6.6" y="4.6" width="3.200000000000001" height="9" fill="#d65853" stroke="none"/><rect x="-5.4" y="3" width="1.3" height="11.4" fill="#4a0f0f" stroke="none" opacity="0.9"/><rect x="-3.6" y="3" width="1.3" height="11.4" fill="#4a0f0f" stroke="none" opacity="0.9"/><rect x="2.3" y="3" width="1.3" height="11.4" fill="#4a0f0f" stroke="none" opacity="0.9"/><rect x="4.1" y="3" width="1.3" height="11.4" fill="#4a0f0f" stroke="none" opacity="0.9"/><path d="M-1.2,4 L0,7.5 L1.2,4" fill="none" stroke="#4a0f0f" stroke-width="1" opacity="0.8"/></g>
<g transform="translate(805.20,1022.00)" stroke="#1c1c1c" stroke-width="1.8" stroke-linejoin="round"><rect x="-10.6" y="20" width="21.2" height="62.0" fill="#d8d8d8"/><rect x="-2.3" y="21" width="4.6" height="61.0" fill="#7d7d7d" stroke="#111" stroke-width="1.3"/><g transform="translate(0,30.7) scale(-1,1)" stroke-width="1.4"><rect x="2" y="-2.9" width="6" height="5.8" fill="#f4f4f4" stroke-width="1.1"/><rect x="10" y="-3.3" width="10.5" height="6.6" fill="#ececec"/><rect x="7.2" y="-5" width="3" height="10" rx="1.2" fill="#ececec"/><path d="M20.5,-5.4 L27.6,-2.8 V2.8 L20.5,5.4 Z" fill="#ececec"/><rect x="27.6" y="-2.3" width="3.2" height="4.6" rx="1" fill="#ececec"/></g><rect x="-13.6" y="18" width="27.2" height="3.2" rx="0.8" fill="#f2f2f2" stroke-width="1.3"/><path d="M-12.9,15 V4 Q-12.9,0.6 -9.2,0.6 H9.2 Q12.9,0.6 12.9,4 V15 L14.2,15.6 V17.6 H-14.2 V15.6 Z" fill="#4a0f0f" stroke="#4a0f0f" stroke-width="1.3"/><path d="M-11.4,14.4 V4.6 Q-11.4,2.2 -8.8,2.2 H8.8 Q11.4,2.2 11.4,4.6 V14.4 Z" fill="#b53836" stroke="none"/><rect x="-9.8" y="4.6" width="3.200000000000001" height="9" fill="#d65853" stroke="none"/><rect x="-2.4" y="4.6" width="4.8" height="9" fill="#d65853" stroke="none"/><rect x="6.6" y="4.6" width="3.200000000000001" height="9" fill="#d65853" stroke="none"/><rect x="-5.4" y="3" width="1.3" height="11.4" fill="#4a0f0f" stroke="none" opacity="0.9"/><rect x="-3.6" y="3" width="1.3" height="11.4" fill="#4a0f0f" stroke="none" opacity="0.9"/><rect x="2.3" y="3" width="1.3" height="11.4" fill="#4a0f0f" stroke="none" opacity="0.9"/><rect x="4.1" y="3" width="1.3" height="11.4" fill="#4a0f0f" stroke="none" opacity="0.9"/><path d="M-1.2,4 L0,7.5 L1.2,4" fill="none" stroke="#4a0f0f" stroke-width="1" opacity="0.8"/></g></g>
<g filter="url(#bp)"><use href="#plant" x="200.0" y="464.3"/>
<use href="#plant" x="327.5" y="464.3"/>
<use href="#plant" x="454.2" y="464.3"/>
<use href="#plant" x="568.2" y="464.3"/>
<use href="#plant" x="848.0" y="457.0"/>
<use href="#plant" x="430.0" y="715.8"/>
<use href="#plant" x="840.2" y="758.0"/>
<use href="#plant" x="925.1" y="770.0"/>
<use href="#plant" x="925.2" y="595.2"/>
<use href="#plant" x="1214.5" y="423.2"/>
<use href="#plant" x="1214.5" y="547.2"/>
<use href="#plant" x="1214.5" y="660.1"/>
<use href="#plant" x="1214.5" y="783.8"/>
<use href="#plant" x="266.2" y="1035.0"/>
<use href="#plant" x="433.7" y="1123.5"/>
<use href="#plant" x="1152.4" y="1138.3"/>
<use href="#plant" x="926.2" y="1145.3"/>
<use href="#plant" x="805.5" y="1114.0"/>
<use href="#plant" x="972.2" y="982.0"/></g>
<path d="M24.2,1175 H180.5 L250,1258.5 H24.2 Z" fill="#28742d"/>
<text transform="translate(1298.50,755.3) scale(1.2191,1)" font-family="Liberation Sans, sans-serif" font-weight="bold" font-size="86" fill="#1f6b27" stroke="#1f6b27" stroke-width="4" stroke-linejoin="miter" stroke-miterlimit="2.5">X2</text>
<text transform="translate(33.15,1237) scale(1.1806,1)" font-family="Liberation Sans, sans-serif" font-weight="bold" font-size="60" fill="#ffffff" stroke="#ffffff" stroke-width="3" stroke-linejoin="miter" stroke-miterlimit="2.5">Note</text>
<g><text transform="translate(29.59,1356.3) skewX(-4) scale(1.2577,1)" font-family="Liberation Sans, sans-serif" font-weight="bold" font-size="48.4" fill="#0a0a0a" stroke="#0a0a0a" stroke-width="1.6" stroke-linejoin="miter" stroke-miterlimit="2.5">We</text><text transform="translate(133.57,1356.3) skewX(-4) scale(1.2433,1)" font-family="Liberation Sans, sans-serif" font-weight="bold" font-size="48.4" fill="#0a0a0a" stroke="#0a0a0a" stroke-width="1.6" stroke-linejoin="miter" stroke-miterlimit="2.5">provide</text><text transform="translate(364.28,1356.3) skewX(-4) scale(1.2448,1)" font-family="Liberation Sans, sans-serif" font-weight="bold" font-size="48.4" fill="#0a0a0a" stroke="#0a0a0a" stroke-width="1.6" stroke-linejoin="miter" stroke-miterlimit="2.5">enough</text><text transform="translate(597.99,1356.3) skewX(-4) scale(1.2687,1)" font-family="Liberation Sans, sans-serif" font-weight="bold" font-size="48.4" fill="#0a0a0a" stroke="#0a0a0a" stroke-width="1.6" stroke-linejoin="miter" stroke-miterlimit="2.5">fittings</text><text transform="translate(818.91,1356.3) skewX(-4) scale(1.0586,1)" font-family="Liberation Sans, sans-serif" font-weight="bold" font-size="48.4" fill="#0a0a0a" stroke="#0a0a0a" stroke-width="1.6" stroke-linejoin="miter" stroke-miterlimit="2.5">so</text><text transform="translate(896.18,1356.3) skewX(-4) scale(1.2828,1)" font-family="Liberation Sans, sans-serif" font-weight="bold" font-size="48.4" fill="#0a0a0a" stroke="#0a0a0a" stroke-width="1.6" stroke-linejoin="miter" stroke-miterlimit="2.5">that</text><text transform="translate(1027.01,1356.3) skewX(-4) scale(1.2264,1)" font-family="Liberation Sans, sans-serif" font-weight="bold" font-size="48.4" fill="#0a0a0a" stroke="#0a0a0a" stroke-width="1.6" stroke-linejoin="miter" stroke-miterlimit="2.5">you</text><text transform="translate(1147.75,1356.3) skewX(-4) scale(1.1857,1)" font-family="Liberation Sans, sans-serif" font-weight="bold" font-size="48.4" fill="#0a0a0a" stroke="#0a0a0a" stroke-width="1.6" stroke-linejoin="miter" stroke-miterlimit="2.5">can</text><text transform="translate(1261.32,1356.3) skewX(-4) scale(1.2362,1)" font-family="Liberation Sans, sans-serif" font-weight="bold" font-size="48.4" fill="#0a0a0a" stroke="#0a0a0a" stroke-width="1.6" stroke-linejoin="miter" stroke-miterlimit="2.5">build</text><text transform="translate(1419.85,1356.3) skewX(-4) scale(1.2105,1)" font-family="Liberation Sans, sans-serif" font-weight="bold" font-size="48.4" fill="#0a0a0a" stroke="#0a0a0a" stroke-width="1.6" stroke-linejoin="miter" stroke-miterlimit="2.5">up</text></g>
<text transform="translate(31.76,1423.6) scale(1.3400,1)" font-family="Liberation Sans, sans-serif" font-weight="bold" font-size="62" fill="#23702a" stroke="#23702a" stroke-width="3" stroke-linejoin="miter" stroke-miterlimit="2.5">two</text>
<g><text transform="translate(188.34,1425) skewX(-4) scale(1.2850,1)" font-family="Liberation Sans, sans-serif" font-weight="bold" font-size="48.4" fill="#0a0a0a" stroke="#0a0a0a" stroke-width="1.6" stroke-linejoin="miter" stroke-miterlimit="2.5">irrigation</text><text transform="translate(472.86,1425) skewX(-4) scale(1.1508,1)" font-family="Liberation Sans, sans-serif" font-weight="bold" font-size="48.4" fill="#0a0a0a" stroke="#0a0a0a" stroke-width="1.6" stroke-linejoin="miter" stroke-miterlimit="2.5">system</text><text transform="translate(681.18,1425) skewX(-4) scale(1.1750,1)" font-family="Liberation Sans, sans-serif" font-weight="bold" font-size="48.4" fill="#0a0a0a" stroke="#0a0a0a" stroke-width="1.6" stroke-linejoin="miter" stroke-miterlimit="2.5">or</text><text transform="translate(755.95,1425) skewX(-4) scale(1.1432,1)" font-family="Liberation Sans, sans-serif" font-weight="bold" font-size="48.4" fill="#0a0a0a" stroke="#0a0a0a" stroke-width="1.6" stroke-linejoin="miter" stroke-miterlimit="2.5">a</text><text transform="translate(803.45,1425) skewX(-4) scale(1.2209,1)" font-family="Liberation Sans, sans-serif" font-weight="bold" font-size="48.4" fill="#0a0a0a" stroke="#0a0a0a" stroke-width="1.6" stroke-linejoin="miter" stroke-miterlimit="2.5">long</text><text transform="translate(945.09,1425) skewX(-4) scale(1.2821,1)" font-family="Liberation Sans, sans-serif" font-weight="bold" font-size="48.4" fill="#0a0a0a" stroke="#0a0a0a" stroke-width="1.6" stroke-linejoin="miter" stroke-miterlimit="2.5">irrigation</text><text transform="translate(1228.81,1425) skewX(-4) scale(1.1691,1)" font-family="Liberation Sans, sans-serif" font-weight="bold" font-size="48.4" fill="#0a0a0a" stroke="#0a0a0a" stroke-width="1.6" stroke-linejoin="miter" stroke-miterlimit="2.5">system.</text></g>
</svg>
</body></html>
